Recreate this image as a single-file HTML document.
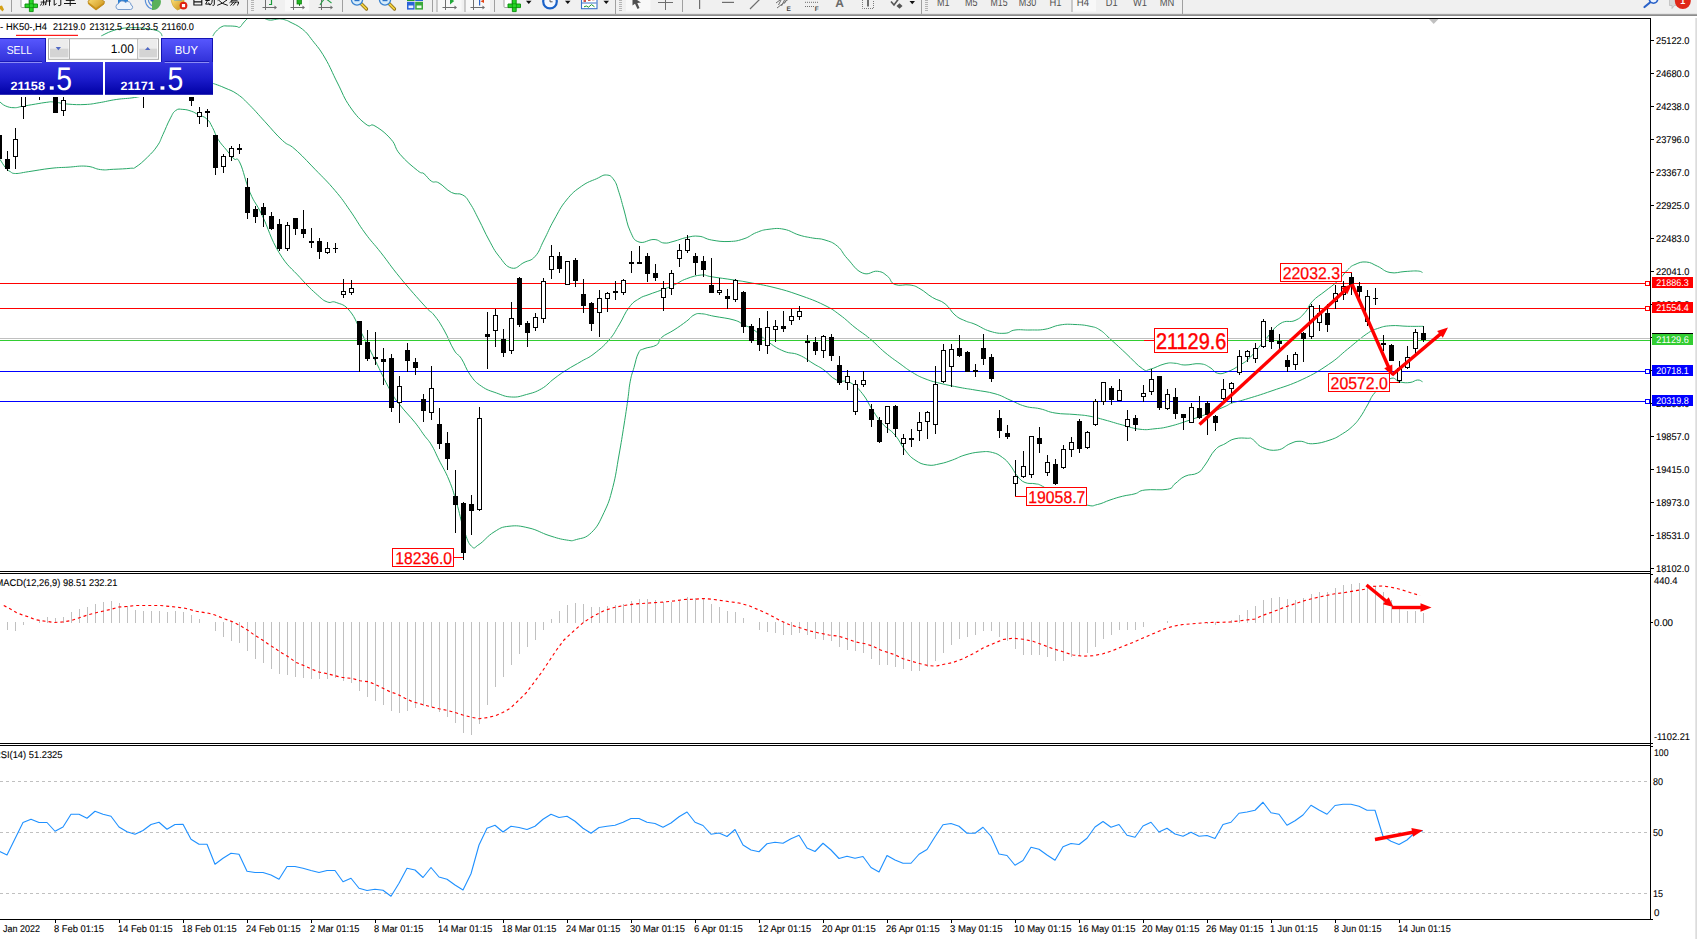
<!DOCTYPE html>
<html><head><meta charset="utf-8"><title>HK50-,H4</title>
<style>
html,body{margin:0;padding:0;background:#fff;}
body{width:1697px;height:939px;overflow:hidden;position:relative;font-family:"Liberation Sans", sans-serif;}
svg text{text-rendering:geometricPrecision;}
</style></head><body>
<svg width="1697" height="939" viewBox="0 0 1697 939" style="position:absolute;left:0;top:0;font-family:&quot;Liberation Sans&quot;,sans-serif">
<rect x="0" y="0" width="1697" height="939" fill="#fff"/>
<defs><clipPath id="cm"><rect x="0" y="19" width="1650" height="552"/></clipPath><clipPath id="cmacd"><rect x="0" y="574" width="1650" height="169"/></clipPath><clipPath id="crsi"><rect x="0" y="746" width="1650" height="173"/></clipPath></defs>
<g clip-path="url(#cm)">
<path d="M101.50,36.20 C101.71,36.01 100.14,36.54 102.40,35.40 C104.66,34.26 106.95,32.86 111.20,31.30 C115.45,29.74 116.47,29.52 120.60,28.70 C124.73,27.88 124.49,28.01 128.90,27.80 C133.31,27.59 134.83,27.52 139.50,27.80 C144.17,28.08 144.77,28.32 148.90,29.00 C153.03,29.68 154.45,29.74 157.20,30.70 C159.95,31.66 159.60,32.00 160.70,33.10 C161.80,34.20 161.55,34.63 161.90,35.40 C162.25,36.17 162.13,36.17 162.20,36.40" fill="none" stroke="#28a868" stroke-width="1"/>
<path d="M212.80,36.30 C212.89,36.09 212.43,36.57 213.20,35.40 C213.97,34.23 214.05,33.35 216.10,31.30 C218.15,29.25 219.25,27.84 222.00,26.60 C224.75,25.36 224.61,26.05 227.90,26.00 C231.19,25.95 233.35,26.12 236.10,26.40 C238.85,26.68 238.04,27.97 239.70,27.20 C241.36,26.43 241.57,24.94 243.20,23.10 C244.83,21.26 245.35,20.61 246.70,19.30 C248.05,17.99 248.46,17.92 249.00,17.50" fill="none" stroke="#28a868" stroke-width="1"/>
<path d="M263.00,17.50 C263.61,17.83 263.90,18.29 265.60,18.90 C267.30,19.51 267.83,20.01 270.30,20.10 C272.77,20.19 273.73,19.58 276.20,19.30 C278.67,19.02 278.71,18.71 280.90,18.90 C283.09,19.09 283.48,19.38 285.60,20.10 C287.72,20.82 286.06,19.87 290.00,22.00 C293.94,24.13 297.25,24.93 302.50,29.25 C307.75,33.57 307.25,33.79 312.50,40.50 C317.75,47.21 319.17,48.08 325.00,58.00 C330.83,67.92 331.67,71.62 337.50,83.00 C343.33,94.38 343.35,97.12 350.00,106.75 C356.65,116.38 360.17,119.76 366.00,124.25 C371.83,128.74 369.17,122.50 375.00,126.00 C380.83,129.50 385.17,132.66 391.00,139.25 C396.83,145.84 393.82,146.96 400.00,154.25 C406.18,161.54 411.90,165.95 417.50,170.50 C423.10,175.05 420.73,171.24 424.00,173.75 C427.27,176.26 428.00,179.09 431.50,181.25 C435.00,183.41 434.33,180.38 439.00,183.00 C443.67,185.62 445.96,189.70 451.50,192.50 C457.04,195.30 458.38,192.38 462.75,195.00 C467.12,197.62 466.46,197.92 470.25,203.75 C474.04,209.58 474.62,211.54 479.00,220.00 C483.38,228.46 484.33,231.54 489.00,240.00 C493.67,248.46 493.75,249.72 499.00,256.25 C504.25,262.78 505.67,266.54 511.50,268.00 C517.33,269.46 518.46,265.24 524.00,262.50 C529.54,259.76 530.58,261.50 535.25,256.25 C539.92,251.00 539.62,248.46 544.00,240.00 C548.38,231.54 548.75,229.33 554.00,220.00 C559.25,210.67 560.08,207.88 566.50,200.00 C572.92,192.12 574.50,191.21 581.50,186.25 C588.50,181.29 590.67,181.38 596.50,178.75 C602.33,176.12 602.42,174.71 606.50,175.00 C610.58,175.29 611.08,175.92 614.00,180.00 C616.92,184.08 616.67,185.50 619.00,192.50 C621.33,199.50 621.38,200.96 624.00,210.00 C626.62,219.04 626.75,223.78 630.25,231.25 C633.75,238.72 633.46,240.07 639.00,242.00 C644.54,243.93 648.17,239.27 654.00,239.50 C659.83,239.73 659.33,242.59 664.00,243.00 C668.67,243.41 668.75,242.53 674.00,241.25 C679.25,239.97 680.67,238.67 686.50,237.50 C692.33,236.33 693.17,235.67 699.00,236.25 C704.83,236.83 704.50,238.78 711.50,240.00 C718.50,241.22 721.42,241.79 729.00,241.50 C736.58,241.21 737.58,240.85 744.00,238.75 C750.42,236.65 750.67,234.72 756.50,232.50 C762.33,230.28 762.58,230.01 769.00,229.25 C775.42,228.49 777.00,227.91 784.00,229.25 C791.00,230.59 792.35,232.96 799.00,235.00 C805.65,237.04 806.43,236.83 812.50,238.00 C818.57,239.17 819.17,238.07 825.00,240.00 C830.83,241.93 832.25,241.88 837.50,246.25 C842.75,250.62 841.67,252.51 847.50,258.75 C853.33,264.99 855.50,270.08 862.50,273.00 C869.50,275.92 871.67,270.49 877.50,271.25 C883.33,272.01 883.42,273.16 887.50,276.25 C891.58,279.34 889.75,282.46 895.00,284.50 C900.25,286.54 904.17,284.01 910.00,285.00 C915.83,285.99 914.75,285.83 920.00,288.75 C925.25,291.67 926.67,294.00 932.50,297.50 C938.33,301.00 939.75,299.67 945.00,303.75 C950.25,307.83 950.33,311.03 955.00,315.00 C959.67,318.97 960.33,318.59 965.00,320.75 C969.67,322.91 969.17,321.80 975.00,324.25 C980.83,326.70 983.00,329.15 990.00,331.25 C997.00,333.35 999.17,333.54 1005.00,333.25 C1010.83,332.96 1009.17,330.76 1015.00,330.00 C1020.83,329.24 1023.00,330.18 1030.00,330.00 C1037.00,329.82 1038.00,330.42 1045.00,329.25 C1052.00,328.08 1053.00,326.11 1060.00,325.00 C1067.00,323.89 1068.00,324.21 1075.00,324.50 C1082.00,324.79 1084.17,324.97 1090.00,326.25 C1095.83,327.53 1095.33,327.08 1100.00,330.00 C1104.67,332.92 1104.17,333.50 1110.00,338.75 C1115.83,344.00 1117.42,345.50 1125.00,352.50 C1132.58,359.50 1136.67,364.84 1142.50,368.75 C1148.33,372.66 1144.75,370.42 1150.00,369.25 C1155.25,368.08 1159.17,365.15 1165.00,363.75 C1170.83,362.35 1170.33,362.96 1175.00,363.25 C1179.67,363.54 1179.17,364.88 1185.00,365.00 C1190.83,365.12 1194.17,363.17 1200.00,363.75 C1205.83,364.33 1205.92,365.28 1210.00,367.50 C1214.08,369.72 1213.42,372.26 1217.50,373.25 C1221.58,374.24 1222.25,373.68 1227.50,371.75 C1232.75,369.82 1234.75,368.32 1240.00,365.00 C1245.25,361.68 1244.17,363.33 1250.00,357.50 C1255.83,351.67 1258.00,347.88 1265.00,340.00 C1272.00,332.12 1273.00,328.30 1280.00,323.75 C1287.00,319.20 1289.17,323.12 1295.00,320.50 C1300.83,317.88 1300.92,316.99 1305.00,312.50 C1309.08,308.01 1307.83,306.21 1312.50,301.25 C1317.17,296.29 1319.17,295.92 1325.00,291.25 C1330.83,286.58 1332.25,286.21 1337.50,281.25 C1342.75,276.29 1343.42,273.91 1347.50,270.00 C1351.58,266.09 1350.62,266.37 1355.00,264.50 C1359.38,262.63 1361.00,261.59 1366.25,262.00 C1371.50,262.41 1371.96,263.80 1377.50,266.25 C1383.04,268.70 1383.58,271.27 1390.00,272.50 C1396.42,273.73 1398.58,271.85 1405.00,271.50 C1411.42,271.15 1413.42,270.77 1417.50,271.00 C1421.58,271.23 1421.33,272.15 1422.50,272.50" fill="none" stroke="#28a868" stroke-width="1"/>
<path d="M0.00,102.00 C1.33,102.93 2.39,104.67 5.70,106.00 C9.01,107.33 10.23,107.64 14.20,107.70 C18.17,107.76 17.75,107.09 22.70,106.25 C27.65,105.41 29.79,105.02 35.40,104.10 C41.01,103.18 42.46,102.79 46.75,102.30 C51.04,101.81 48.84,101.58 53.80,102.00 C58.76,102.42 60.72,103.52 68.00,104.10 C75.28,104.68 77.72,104.83 85.00,104.50 C92.28,104.17 91.92,103.87 99.20,102.70 C106.48,101.53 107.94,100.71 116.20,99.50 C124.46,98.29 126.71,98.78 134.60,97.50 C142.49,96.22 146.41,94.82 150.00,94.00" fill="none" stroke="#28a868" stroke-width="1"/>
<path d="M213.00,83.50 C213.58,83.67 212.70,83.20 215.50,84.25 C218.30,85.30 219.87,85.67 225.00,88.00 C230.13,90.33 231.67,90.17 237.50,94.25 C243.33,98.33 243.58,99.08 250.00,105.50 C256.42,111.92 257.42,113.58 265.00,121.75 C272.58,129.92 275.50,134.08 282.50,140.50 C289.50,146.92 287.42,142.54 295.00,149.25 C302.58,155.96 305.67,159.62 315.00,169.25 C324.33,178.88 326.83,180.88 335.00,190.50 C343.17,200.12 343.00,200.58 350.00,210.50 C357.00,220.42 357.77,223.14 365.00,233.00 C372.23,242.86 372.83,242.37 381.00,252.75 C389.17,263.13 389.73,265.02 400.00,277.50 C410.27,289.98 417.07,297.50 425.00,306.25 C432.93,315.00 429.57,309.46 434.00,315.00 C438.43,320.54 439.33,321.83 444.00,330.00 C448.67,338.17 449.92,343.29 454.00,350.00 C458.08,356.71 457.71,352.92 461.50,358.75 C465.29,364.58 465.58,368.58 470.25,375.00 C474.92,381.42 475.38,382.05 481.50,386.25 C487.62,390.45 489.50,390.49 496.50,393.00 C503.50,395.51 504.50,396.65 511.50,397.00 C518.50,397.35 519.50,396.43 526.50,394.50 C533.50,392.57 535.08,392.43 541.50,388.75 C547.92,385.07 548.17,383.12 554.00,378.75 C559.83,374.38 560.08,374.08 566.50,370.00 C572.92,365.92 575.08,365.04 581.50,361.25 C587.92,357.46 587.58,358.71 594.00,353.75 C600.42,348.79 603.17,346.71 609.00,340.00 C614.83,333.29 614.33,332.58 619.00,325.00 C623.67,317.42 624.33,313.62 629.00,307.50 C633.67,301.38 634.33,301.78 639.00,298.75 C643.67,295.72 643.75,296.54 649.00,294.50 C654.25,292.46 655.67,292.22 661.50,290.00 C667.33,287.78 668.17,287.62 674.00,285.00 C679.83,282.38 680.08,281.08 686.50,278.75 C692.92,276.42 695.67,275.47 701.50,275.00 C707.33,274.53 703.92,275.58 711.50,276.75 C719.08,277.92 725.25,278.66 734.00,280.00 C742.75,281.34 739.67,280.75 749.00,282.50 C758.33,284.25 762.33,284.58 774.00,287.50 C785.67,290.42 787.33,290.92 799.00,295.00 C810.67,299.08 814.43,300.33 824.00,305.00 C833.57,309.67 832.77,309.75 840.00,315.00 C847.23,320.25 848.00,321.96 855.00,327.50 C862.00,333.04 863.00,332.92 870.00,338.75 C877.00,344.58 878.00,346.67 885.00,352.50 C892.00,358.33 893.58,359.08 900.00,363.75 C906.42,368.42 906.67,369.00 912.50,372.50 C918.33,376.00 918.58,376.24 925.00,378.75 C931.42,381.26 931.83,381.21 940.00,383.25 C948.17,385.29 951.83,385.93 960.00,387.50 C968.17,389.07 966.83,388.54 975.00,390.00 C983.17,391.46 986.83,391.42 995.00,393.75 C1003.17,396.08 1003.00,397.08 1010.00,400.00 C1017.00,402.92 1018.00,404.21 1025.00,406.25 C1032.00,408.29 1033.00,407.18 1040.00,408.75 C1047.00,410.32 1046.83,411.66 1055.00,413.00 C1063.17,414.34 1066.83,413.74 1075.00,414.50 C1083.17,415.26 1083.00,414.97 1090.00,416.25 C1097.00,417.53 1097.42,417.96 1105.00,420.00 C1112.58,422.04 1114.33,422.84 1122.50,425.00 C1130.67,427.16 1132.42,428.38 1140.00,429.25 C1147.58,430.12 1148.00,429.45 1155.00,428.75 C1162.00,428.05 1161.83,428.29 1170.00,426.25 C1178.17,424.21 1181.25,422.92 1190.00,420.00 C1198.75,417.08 1199.33,416.90 1207.50,413.75 C1215.67,410.60 1219.28,409.01 1225.00,406.50 C1230.72,403.99 1227.19,404.68 1232.00,403.00 C1236.81,401.32 1236.27,402.15 1245.60,399.30 C1254.93,396.45 1258.79,395.42 1272.00,390.80 C1285.21,386.18 1288.99,385.66 1302.20,379.50 C1315.41,373.34 1318.05,371.45 1328.60,364.40 C1339.15,357.35 1338.60,356.35 1347.40,349.30 C1356.20,342.25 1359.25,339.05 1366.30,334.20 C1373.35,329.35 1371.88,330.48 1377.60,328.50 C1383.32,326.52 1383.75,326.21 1390.80,325.70 C1397.85,325.19 1400.29,326.16 1407.80,326.30 C1415.31,326.44 1419.45,326.30 1423.00,326.30" fill="none" stroke="#28a868" stroke-width="1"/>
<path d="M0.00,159.40 C1.33,161.38 3.39,165.10 5.70,167.90 C8.01,170.70 7.59,170.09 9.90,171.40 C12.21,172.71 11.31,173.43 15.60,173.50 C19.89,173.57 20.04,172.91 28.30,171.70 C36.56,170.49 41.74,169.35 51.00,168.30 C60.26,167.25 59.74,167.69 68.00,167.20 C76.26,166.71 78.79,165.64 86.40,166.20 C94.01,166.76 94.32,168.88 100.60,169.60 C106.88,170.32 106.37,169.60 113.30,169.30 C120.23,169.00 125.00,168.86 130.30,168.30 C135.60,167.74 132.01,169.48 136.00,166.90 C139.99,164.32 142.43,162.15 147.40,157.25 C152.37,152.35 153.68,151.19 157.30,145.90 C160.92,140.62 159.94,140.88 162.90,134.60 C165.86,128.32 167.01,124.62 170.00,119.00 C172.99,113.38 172.71,112.74 175.70,110.50 C178.69,108.26 179.16,109.24 182.80,109.40 C186.44,109.56 187.66,109.95 191.30,111.20 C194.94,112.45 194.76,112.93 198.40,114.75 C202.04,116.57 203.61,116.03 206.90,119.00 C210.19,121.97 209.86,122.72 212.50,127.50 C215.14,132.28 214.89,134.20 218.20,139.50 C221.51,144.80 223.06,145.72 226.70,150.20 C230.34,154.68 230.70,155.71 233.80,158.70 C236.90,161.69 236.22,155.11 240.00,163.00 C243.78,170.89 244.87,180.37 250.00,192.50 C255.13,204.63 255.23,201.00 262.00,215.00 C268.77,229.00 270.13,237.92 279.00,252.50 C287.87,267.08 291.02,267.58 300.00,277.50 C308.98,287.42 311.08,289.28 317.50,295.00 C323.92,300.72 323.12,300.25 327.50,302.00 C331.88,303.75 331.00,300.34 336.25,302.50 C341.50,304.66 343.88,303.67 350.00,311.25 C356.12,318.83 356.67,323.62 362.50,335.00 C368.33,346.38 368.58,347.17 375.00,360.00 C381.42,372.83 384.17,379.50 390.00,390.00 C395.83,400.50 394.17,397.42 400.00,405.00 C405.83,412.58 409.40,415.50 415.00,422.50 C420.60,429.50 420.15,429.75 424.00,435.00 C427.85,440.25 428.00,439.17 431.50,445.00 C435.00,450.83 434.92,451.83 439.00,460.00 C443.08,468.17 444.92,470.08 449.00,480.00 C453.08,489.92 453.00,490.83 456.50,502.50 C460.00,514.17 460.50,519.79 464.00,530.00 C467.50,540.21 468.00,542.87 471.50,546.25 C475.00,549.63 473.75,547.83 479.00,544.50 C484.25,541.17 487.00,536.26 494.00,532.00 C501.00,527.74 500.83,527.18 509.00,526.25 C517.17,525.32 519.67,525.84 529.00,528.00 C538.33,530.16 540.25,532.70 549.00,535.50 C557.75,538.30 560.08,539.07 566.50,540.00 C572.92,540.93 570.67,541.25 576.50,539.50 C582.33,537.75 585.08,538.80 591.50,532.50 C597.92,526.20 599.04,523.00 604.00,512.50 C608.96,502.00 609.25,500.92 612.75,487.50 C616.25,474.08 616.38,469.58 619.00,455.00 C621.62,440.42 621.96,437.83 624.00,425.00 C626.04,412.17 626.29,410.21 627.75,400.00 C629.21,389.79 628.79,388.83 630.25,381.25 C631.71,373.67 632.08,374.09 634.00,367.50 C635.92,360.91 636.17,357.38 638.50,353.00 C640.83,348.62 639.80,350.62 644.00,348.75 C648.20,346.88 652.42,347.62 656.50,345.00 C660.58,342.38 657.42,341.00 661.50,337.50 C665.58,334.00 668.17,333.79 674.00,330.00 C679.83,326.21 681.83,324.75 686.50,321.25 C691.17,317.75 690.50,316.75 694.00,315.00 C697.50,313.25 696.83,313.46 701.50,313.75 C706.17,314.04 706.42,314.79 714.00,316.25 C721.58,317.71 727.00,317.96 734.00,320.00 C741.00,322.04 739.33,322.67 744.00,325.00 C748.67,327.33 748.17,325.92 754.00,330.00 C759.83,334.08 762.00,337.54 769.00,342.50 C776.00,347.46 777.00,348.33 784.00,351.25 C791.00,354.17 792.00,352.02 799.00,355.00 C806.00,357.98 808.17,360.50 814.00,364.00 C819.83,367.50 818.75,366.27 824.00,370.00 C829.25,373.73 830.43,377.08 836.50,380.00 C842.57,382.92 843.93,379.29 850.00,382.50 C856.07,385.71 857.25,387.33 862.50,393.75 C867.75,400.17 867.83,403.00 872.50,410.00 C877.17,417.00 877.25,417.92 882.50,423.75 C887.75,429.58 889.75,428.88 895.00,435.00 C900.25,441.12 900.33,444.17 905.00,450.00 C909.67,455.83 909.75,456.50 915.00,460.00 C920.25,463.50 921.67,464.12 927.50,465.00 C933.33,465.88 934.17,464.92 940.00,463.75 C945.83,462.58 946.67,462.04 952.50,460.00 C958.33,457.96 958.58,456.87 965.00,455.00 C971.42,453.13 973.58,452.58 980.00,452.00 C986.42,451.42 987.25,451.22 992.50,452.50 C997.75,453.78 998.42,454.58 1002.50,457.50 C1006.58,460.42 1006.50,460.62 1010.00,465.00 C1013.50,469.38 1014.00,472.17 1017.50,476.25 C1021.00,480.33 1020.92,480.75 1025.00,482.50 C1029.08,484.25 1030.92,482.88 1035.00,483.75 C1039.08,484.62 1036.67,483.16 1042.50,486.25 C1048.33,489.34 1049.79,492.62 1060.00,497.00 C1070.21,501.38 1077.50,503.25 1086.25,505.00 C1095.00,506.75 1091.96,505.67 1097.50,504.50 C1103.04,503.33 1104.17,501.93 1110.00,500.00 C1115.83,498.07 1116.67,497.71 1122.50,496.25 C1128.33,494.79 1129.75,495.21 1135.00,493.75 C1140.25,492.29 1137.42,491.05 1145.00,490.00 C1152.58,488.95 1160.50,490.71 1167.50,489.25 C1174.50,487.79 1170.92,486.78 1175.00,483.75 C1179.08,480.72 1179.75,478.76 1185.00,476.25 C1190.25,473.74 1192.83,475.62 1197.50,473.00 C1202.17,470.38 1200.92,470.37 1205.00,465.00 C1209.08,459.63 1210.33,454.96 1215.00,450.00 C1219.67,445.04 1220.33,446.38 1225.00,443.75 C1229.67,441.12 1229.75,440.03 1235.00,438.75 C1240.25,437.47 1243.42,438.13 1247.50,438.25 C1251.58,438.37 1249.00,437.09 1252.50,439.25 C1256.00,441.41 1256.67,444.99 1262.50,447.50 C1268.33,450.01 1271.08,450.88 1277.50,450.00 C1283.92,449.12 1284.75,445.79 1290.00,443.75 C1295.25,441.71 1294.75,441.25 1300.00,441.25 C1305.25,441.25 1305.50,444.04 1312.50,443.75 C1319.50,443.46 1323.00,442.33 1330.00,440.00 C1337.00,437.67 1337.25,436.96 1342.50,433.75 C1347.75,430.54 1348.42,430.04 1352.50,426.25 C1356.58,422.46 1356.50,422.46 1360.00,417.50 C1363.50,412.54 1364.00,410.83 1367.50,405.00 C1371.00,399.17 1369.75,398.62 1375.00,392.50 C1380.25,386.38 1384.17,381.20 1390.00,378.75 C1395.83,376.30 1395.33,381.12 1400.00,382.00 C1404.67,382.88 1405.92,382.97 1410.00,382.50 C1414.08,382.03 1414.58,380.18 1417.50,380.00 C1420.42,379.82 1421.33,381.34 1422.50,381.75" fill="none" stroke="#28a868" stroke-width="1"/>
<rect x="0" y="283" width="1650" height="1" fill="#ff0000" shape-rendering="crispEdges"/>
<rect x="0" y="308" width="1650" height="1" fill="#ff0000" shape-rendering="crispEdges"/>
<rect x="0" y="338" width="1650" height="1" fill="#c0c0c0" shape-rendering="crispEdges"/>
<rect x="0" y="340" width="1650" height="1" fill="#32cd32" shape-rendering="crispEdges"/>
<rect x="0" y="371" width="1650" height="1" fill="#0000ff" shape-rendering="crispEdges"/>
<rect x="0" y="401" width="1650" height="1" fill="#0000ff" shape-rendering="crispEdges"/>
<g shape-rendering="crispEdges">
<rect x="-1" y="135" width="1" height="24" fill="#000"/>
<rect x="-3" y="135" width="5" height="24" fill="#000"/>
<rect x="7" y="151" width="1" height="20" fill="#000"/>
<rect x="5" y="159" width="5" height="10" fill="#000"/>
<rect x="15" y="128" width="1" height="41" fill="#000"/>
<rect x="13" y="139" width="5" height="18" fill="#000"/>
<rect x="14" y="140" width="3" height="16" fill="#fff"/>
<rect x="23" y="90" width="1" height="29" fill="#000"/>
<rect x="21" y="90" width="5" height="17" fill="#000"/>
<rect x="22" y="91" width="3" height="15" fill="#fff"/>
<rect x="39" y="90" width="1" height="10" fill="#000"/>
<rect x="55" y="90" width="1" height="23" fill="#000"/>
<rect x="53" y="90" width="5" height="23" fill="#000"/>
<rect x="63" y="90" width="1" height="26" fill="#000"/>
<rect x="61" y="100" width="5" height="11" fill="#000"/>
<rect x="62" y="101" width="3" height="9" fill="#fff"/>
<rect x="143" y="90" width="1" height="18" fill="#000"/>
<rect x="191" y="90" width="1" height="16" fill="#000"/>
<rect x="189" y="90" width="5" height="11" fill="#000"/>
<rect x="199" y="107" width="1" height="17" fill="#000"/>
<rect x="197" y="112" width="5" height="5" fill="#000"/>
<rect x="198" y="113" width="3" height="3" fill="#fff"/>
<rect x="207" y="109" width="1" height="18" fill="#000"/>
<rect x="205" y="111" width="5" height="2" fill="#000"/>
<rect x="215" y="135" width="1" height="40" fill="#000"/>
<rect x="213" y="135" width="5" height="33" fill="#000"/>
<rect x="223" y="154" width="1" height="19" fill="#000"/>
<rect x="221" y="156" width="5" height="11" fill="#000"/>
<rect x="222" y="157" width="3" height="9" fill="#fff"/>
<rect x="231" y="146" width="1" height="15" fill="#000"/>
<rect x="229" y="148" width="5" height="9" fill="#000"/>
<rect x="230" y="149" width="3" height="7" fill="#fff"/>
<rect x="239" y="144" width="1" height="10" fill="#000"/>
<rect x="237" y="148" width="5" height="2" fill="#000"/>
<rect x="247" y="178" width="1" height="41" fill="#000"/>
<rect x="245" y="187" width="5" height="26" fill="#000"/>
<rect x="255" y="206" width="1" height="17" fill="#000"/>
<rect x="253" y="209" width="5" height="8" fill="#000"/>
<rect x="263" y="203" width="1" height="24" fill="#000"/>
<rect x="261" y="207" width="5" height="8" fill="#000"/>
<rect x="271" y="212" width="1" height="18" fill="#000"/>
<rect x="269" y="216" width="5" height="13" fill="#000"/>
<rect x="279" y="219" width="1" height="32" fill="#000"/>
<rect x="277" y="224" width="5" height="25" fill="#000"/>
<rect x="287" y="222" width="1" height="29" fill="#000"/>
<rect x="285" y="225" width="5" height="24" fill="#000"/>
<rect x="286" y="226" width="3" height="22" fill="#fff"/>
<rect x="295" y="218" width="1" height="17" fill="#000"/>
<rect x="293" y="218" width="5" height="11" fill="#000"/>
<rect x="303" y="210" width="1" height="28" fill="#000"/>
<rect x="301" y="229" width="5" height="5" fill="#000"/>
<rect x="311" y="228" width="1" height="20" fill="#000"/>
<rect x="309" y="241" width="5" height="2" fill="#000"/>
<rect x="319" y="238" width="1" height="21" fill="#000"/>
<rect x="317" y="241" width="5" height="11" fill="#000"/>
<rect x="327" y="242" width="1" height="12" fill="#000"/>
<rect x="325" y="248" width="5" height="5" fill="#000"/>
<rect x="326" y="249" width="3" height="3" fill="#fff"/>
<rect x="335" y="243" width="1" height="10" fill="#000"/>
<rect x="333" y="248" width="5" height="1" fill="#000"/>
<rect x="343" y="279" width="1" height="19" fill="#000"/>
<rect x="341" y="291" width="5" height="4" fill="#000"/>
<rect x="342" y="292" width="3" height="2" fill="#fff"/>
<rect x="351" y="280" width="1" height="15" fill="#000"/>
<rect x="349" y="288" width="5" height="5" fill="#000"/>
<rect x="350" y="289" width="3" height="3" fill="#fff"/>
<rect x="359" y="321" width="1" height="51" fill="#000"/>
<rect x="357" y="321" width="5" height="24" fill="#000"/>
<rect x="367" y="330" width="1" height="31" fill="#000"/>
<rect x="365" y="342" width="5" height="17" fill="#000"/>
<rect x="375" y="332" width="1" height="33" fill="#000"/>
<rect x="373" y="357" width="5" height="2" fill="#000"/>
<rect x="383" y="348" width="1" height="37" fill="#000"/>
<rect x="381" y="359" width="5" height="3" fill="#000"/>
<rect x="391" y="354" width="1" height="58" fill="#000"/>
<rect x="389" y="358" width="5" height="50" fill="#000"/>
<rect x="399" y="376" width="1" height="47" fill="#000"/>
<rect x="397" y="386" width="5" height="17" fill="#000"/>
<rect x="398" y="387" width="3" height="15" fill="#fff"/>
<rect x="407" y="343" width="1" height="29" fill="#000"/>
<rect x="405" y="350" width="5" height="11" fill="#000"/>
<rect x="415" y="358" width="1" height="17" fill="#000"/>
<rect x="413" y="362" width="5" height="6" fill="#000"/>
<rect x="423" y="394" width="1" height="28" fill="#000"/>
<rect x="421" y="399" width="5" height="12" fill="#000"/>
<rect x="431" y="366" width="1" height="54" fill="#000"/>
<rect x="429" y="388" width="5" height="25" fill="#000"/>
<rect x="430" y="389" width="3" height="23" fill="#fff"/>
<rect x="439" y="408" width="1" height="41" fill="#000"/>
<rect x="437" y="424" width="5" height="20" fill="#000"/>
<rect x="447" y="432" width="1" height="38" fill="#000"/>
<rect x="445" y="443" width="5" height="16" fill="#000"/>
<rect x="455" y="470" width="1" height="63" fill="#000"/>
<rect x="453" y="496" width="5" height="9" fill="#000"/>
<rect x="463" y="502" width="1" height="58" fill="#000"/>
<rect x="461" y="503" width="5" height="50" fill="#000"/>
<rect x="471" y="495" width="1" height="40" fill="#000"/>
<rect x="469" y="504" width="5" height="7" fill="#000"/>
<rect x="479" y="407" width="1" height="104" fill="#000"/>
<rect x="477" y="418" width="5" height="92" fill="#000"/>
<rect x="478" y="419" width="3" height="90" fill="#fff"/>
<rect x="487" y="312" width="1" height="57" fill="#000"/>
<rect x="485" y="334" width="5" height="3" fill="#000"/>
<rect x="495" y="309" width="1" height="38" fill="#000"/>
<rect x="493" y="315" width="5" height="16" fill="#000"/>
<rect x="494" y="316" width="3" height="14" fill="#fff"/>
<rect x="503" y="329" width="1" height="28" fill="#000"/>
<rect x="501" y="339" width="5" height="14" fill="#000"/>
<rect x="511" y="302" width="1" height="52" fill="#000"/>
<rect x="509" y="318" width="5" height="33" fill="#000"/>
<rect x="510" y="319" width="3" height="31" fill="#fff"/>
<rect x="519" y="277" width="1" height="50" fill="#000"/>
<rect x="517" y="278" width="5" height="47" fill="#000"/>
<rect x="527" y="321" width="1" height="26" fill="#000"/>
<rect x="525" y="323" width="5" height="10" fill="#000"/>
<rect x="535" y="313" width="1" height="18" fill="#000"/>
<rect x="533" y="317" width="5" height="11" fill="#000"/>
<rect x="534" y="318" width="3" height="9" fill="#fff"/>
<rect x="543" y="278" width="1" height="45" fill="#000"/>
<rect x="541" y="281" width="5" height="38" fill="#000"/>
<rect x="542" y="282" width="3" height="36" fill="#fff"/>
<rect x="551" y="245" width="1" height="34" fill="#000"/>
<rect x="549" y="256" width="5" height="14" fill="#000"/>
<rect x="550" y="257" width="3" height="12" fill="#fff"/>
<rect x="559" y="252" width="1" height="21" fill="#000"/>
<rect x="557" y="256" width="5" height="13" fill="#000"/>
<rect x="567" y="261" width="1" height="24" fill="#000"/>
<rect x="565" y="261" width="5" height="24" fill="#000"/>
<rect x="566" y="262" width="3" height="22" fill="#fff"/>
<rect x="575" y="258" width="1" height="29" fill="#000"/>
<rect x="573" y="260" width="5" height="21" fill="#000"/>
<rect x="583" y="279" width="1" height="34" fill="#000"/>
<rect x="581" y="294" width="5" height="12" fill="#000"/>
<rect x="591" y="302" width="1" height="29" fill="#000"/>
<rect x="589" y="303" width="5" height="21" fill="#000"/>
<rect x="599" y="290" width="1" height="47" fill="#000"/>
<rect x="597" y="298" width="5" height="15" fill="#000"/>
<rect x="598" y="299" width="3" height="13" fill="#fff"/>
<rect x="607" y="292" width="1" height="20" fill="#000"/>
<rect x="605" y="293" width="5" height="6" fill="#000"/>
<rect x="606" y="294" width="3" height="4" fill="#fff"/>
<rect x="615" y="281" width="1" height="19" fill="#000"/>
<rect x="613" y="291" width="5" height="2" fill="#000"/>
<rect x="623" y="279" width="1" height="16" fill="#000"/>
<rect x="621" y="280" width="5" height="13" fill="#000"/>
<rect x="622" y="281" width="3" height="11" fill="#fff"/>
<rect x="631" y="251" width="1" height="22" fill="#000"/>
<rect x="629" y="262" width="5" height="2" fill="#000"/>
<rect x="639" y="246" width="1" height="18" fill="#000"/>
<rect x="637" y="262" width="5" height="2" fill="#000"/>
<rect x="647" y="253" width="1" height="29" fill="#000"/>
<rect x="645" y="256" width="5" height="18" fill="#000"/>
<rect x="655" y="264" width="1" height="17" fill="#000"/>
<rect x="653" y="273" width="5" height="5" fill="#000"/>
<rect x="663" y="281" width="1" height="30" fill="#000"/>
<rect x="661" y="288" width="5" height="10" fill="#000"/>
<rect x="662" y="289" width="3" height="8" fill="#fff"/>
<rect x="671" y="270" width="1" height="25" fill="#000"/>
<rect x="669" y="273" width="5" height="16" fill="#000"/>
<rect x="670" y="274" width="3" height="14" fill="#fff"/>
<rect x="679" y="244" width="1" height="23" fill="#000"/>
<rect x="677" y="250" width="5" height="9" fill="#000"/>
<rect x="678" y="251" width="3" height="7" fill="#fff"/>
<rect x="687" y="235" width="1" height="18" fill="#000"/>
<rect x="685" y="239" width="5" height="12" fill="#000"/>
<rect x="686" y="240" width="3" height="10" fill="#fff"/>
<rect x="695" y="253" width="1" height="22" fill="#000"/>
<rect x="693" y="256" width="5" height="7" fill="#000"/>
<rect x="703" y="256" width="1" height="21" fill="#000"/>
<rect x="701" y="261" width="5" height="9" fill="#000"/>
<rect x="711" y="258" width="1" height="35" fill="#000"/>
<rect x="709" y="285" width="5" height="8" fill="#000"/>
<rect x="719" y="278" width="1" height="17" fill="#000"/>
<rect x="717" y="290" width="5" height="3" fill="#000"/>
<rect x="718" y="291" width="3" height="1" fill="#fff"/>
<rect x="727" y="289" width="1" height="20" fill="#000"/>
<rect x="725" y="296" width="5" height="3" fill="#000"/>
<rect x="735" y="279" width="1" height="23" fill="#000"/>
<rect x="733" y="280" width="5" height="20" fill="#000"/>
<rect x="734" y="281" width="3" height="18" fill="#fff"/>
<rect x="743" y="291" width="1" height="42" fill="#000"/>
<rect x="741" y="292" width="5" height="35" fill="#000"/>
<rect x="751" y="324" width="1" height="19" fill="#000"/>
<rect x="749" y="326" width="5" height="15" fill="#000"/>
<rect x="759" y="318" width="1" height="33" fill="#000"/>
<rect x="757" y="328" width="5" height="17" fill="#000"/>
<rect x="767" y="311" width="1" height="43" fill="#000"/>
<rect x="765" y="327" width="5" height="19" fill="#000"/>
<rect x="766" y="328" width="3" height="17" fill="#fff"/>
<rect x="775" y="320" width="1" height="22" fill="#000"/>
<rect x="773" y="326" width="5" height="4" fill="#000"/>
<rect x="774" y="327" width="3" height="2" fill="#fff"/>
<rect x="783" y="311" width="1" height="21" fill="#000"/>
<rect x="781" y="326" width="5" height="3" fill="#000"/>
<rect x="791" y="309" width="1" height="16" fill="#000"/>
<rect x="789" y="316" width="5" height="5" fill="#000"/>
<rect x="790" y="317" width="3" height="3" fill="#fff"/>
<rect x="799" y="306" width="1" height="14" fill="#000"/>
<rect x="797" y="311" width="5" height="6" fill="#000"/>
<rect x="798" y="312" width="3" height="4" fill="#fff"/>
<rect x="807" y="335" width="1" height="27" fill="#000"/>
<rect x="805" y="341" width="5" height="2" fill="#000"/>
<rect x="815" y="337" width="1" height="18" fill="#000"/>
<rect x="813" y="342" width="5" height="9" fill="#000"/>
<rect x="823" y="335" width="1" height="23" fill="#000"/>
<rect x="821" y="336" width="5" height="15" fill="#000"/>
<rect x="822" y="337" width="3" height="13" fill="#fff"/>
<rect x="831" y="334" width="1" height="27" fill="#000"/>
<rect x="829" y="337" width="5" height="19" fill="#000"/>
<rect x="839" y="356" width="1" height="29" fill="#000"/>
<rect x="837" y="365" width="5" height="18" fill="#000"/>
<rect x="847" y="370" width="1" height="20" fill="#000"/>
<rect x="845" y="376" width="5" height="7" fill="#000"/>
<rect x="846" y="377" width="3" height="5" fill="#fff"/>
<rect x="855" y="380" width="1" height="35" fill="#000"/>
<rect x="853" y="384" width="5" height="28" fill="#000"/>
<rect x="854" y="385" width="3" height="26" fill="#fff"/>
<rect x="863" y="371" width="1" height="16" fill="#000"/>
<rect x="861" y="380" width="5" height="5" fill="#000"/>
<rect x="862" y="381" width="3" height="3" fill="#fff"/>
<rect x="871" y="404" width="1" height="23" fill="#000"/>
<rect x="869" y="409" width="5" height="11" fill="#000"/>
<rect x="879" y="417" width="1" height="26" fill="#000"/>
<rect x="877" y="420" width="5" height="22" fill="#000"/>
<rect x="887" y="406" width="1" height="27" fill="#000"/>
<rect x="885" y="406" width="5" height="18" fill="#000"/>
<rect x="886" y="407" width="3" height="16" fill="#fff"/>
<rect x="895" y="405" width="1" height="32" fill="#000"/>
<rect x="893" y="406" width="5" height="23" fill="#000"/>
<rect x="903" y="434" width="1" height="21" fill="#000"/>
<rect x="901" y="438" width="5" height="6" fill="#000"/>
<rect x="902" y="439" width="3" height="4" fill="#fff"/>
<rect x="911" y="429" width="1" height="18" fill="#000"/>
<rect x="909" y="438" width="5" height="2" fill="#000"/>
<rect x="919" y="412" width="1" height="29" fill="#000"/>
<rect x="917" y="422" width="5" height="9" fill="#000"/>
<rect x="918" y="423" width="3" height="7" fill="#fff"/>
<rect x="927" y="411" width="1" height="28" fill="#000"/>
<rect x="925" y="412" width="5" height="10" fill="#000"/>
<rect x="926" y="413" width="3" height="8" fill="#fff"/>
<rect x="935" y="366" width="1" height="68" fill="#000"/>
<rect x="933" y="384" width="5" height="41" fill="#000"/>
<rect x="934" y="385" width="3" height="39" fill="#fff"/>
<rect x="943" y="344" width="1" height="39" fill="#000"/>
<rect x="941" y="350" width="5" height="32" fill="#000"/>
<rect x="942" y="351" width="3" height="30" fill="#fff"/>
<rect x="951" y="344" width="1" height="43" fill="#000"/>
<rect x="949" y="349" width="5" height="18" fill="#000"/>
<rect x="950" y="350" width="3" height="16" fill="#fff"/>
<rect x="959" y="335" width="1" height="22" fill="#000"/>
<rect x="957" y="348" width="5" height="8" fill="#000"/>
<rect x="967" y="351" width="1" height="21" fill="#000"/>
<rect x="965" y="352" width="5" height="20" fill="#000"/>
<rect x="975" y="364" width="1" height="13" fill="#000"/>
<rect x="973" y="370" width="5" height="2" fill="#000"/>
<rect x="983" y="334" width="1" height="31" fill="#000"/>
<rect x="981" y="348" width="5" height="11" fill="#000"/>
<rect x="991" y="354" width="1" height="28" fill="#000"/>
<rect x="989" y="357" width="5" height="22" fill="#000"/>
<rect x="999" y="410" width="1" height="28" fill="#000"/>
<rect x="997" y="418" width="5" height="13" fill="#000"/>
<rect x="1007" y="425" width="1" height="14" fill="#000"/>
<rect x="1005" y="433" width="5" height="4" fill="#000"/>
<rect x="1015" y="460" width="1" height="37" fill="#000"/>
<rect x="1013" y="476" width="5" height="8" fill="#000"/>
<rect x="1014" y="477" width="3" height="6" fill="#fff"/>
<rect x="1023" y="451" width="1" height="27" fill="#000"/>
<rect x="1021" y="466" width="5" height="11" fill="#000"/>
<rect x="1022" y="467" width="3" height="9" fill="#fff"/>
<rect x="1031" y="436" width="1" height="42" fill="#000"/>
<rect x="1029" y="436" width="5" height="39" fill="#000"/>
<rect x="1030" y="437" width="3" height="37" fill="#fff"/>
<rect x="1039" y="427" width="1" height="26" fill="#000"/>
<rect x="1037" y="438" width="5" height="6" fill="#000"/>
<rect x="1047" y="455" width="1" height="21" fill="#000"/>
<rect x="1045" y="462" width="5" height="11" fill="#000"/>
<rect x="1046" y="463" width="3" height="9" fill="#fff"/>
<rect x="1055" y="459" width="1" height="26" fill="#000"/>
<rect x="1053" y="464" width="5" height="20" fill="#000"/>
<rect x="1063" y="445" width="1" height="24" fill="#000"/>
<rect x="1061" y="449" width="5" height="19" fill="#000"/>
<rect x="1062" y="450" width="3" height="17" fill="#fff"/>
<rect x="1071" y="437" width="1" height="20" fill="#000"/>
<rect x="1069" y="442" width="5" height="8" fill="#000"/>
<rect x="1070" y="443" width="3" height="6" fill="#fff"/>
<rect x="1079" y="419" width="1" height="34" fill="#000"/>
<rect x="1077" y="421" width="5" height="28" fill="#000"/>
<rect x="1087" y="431" width="1" height="18" fill="#000"/>
<rect x="1085" y="432" width="5" height="16" fill="#000"/>
<rect x="1086" y="433" width="3" height="14" fill="#fff"/>
<rect x="1095" y="399" width="1" height="27" fill="#000"/>
<rect x="1093" y="401" width="5" height="24" fill="#000"/>
<rect x="1094" y="402" width="3" height="22" fill="#fff"/>
<rect x="1103" y="382" width="1" height="23" fill="#000"/>
<rect x="1101" y="382" width="5" height="20" fill="#000"/>
<rect x="1102" y="383" width="3" height="18" fill="#fff"/>
<rect x="1111" y="386" width="1" height="19" fill="#000"/>
<rect x="1109" y="388" width="5" height="12" fill="#000"/>
<rect x="1119" y="379" width="1" height="22" fill="#000"/>
<rect x="1117" y="390" width="5" height="11" fill="#000"/>
<rect x="1118" y="391" width="3" height="9" fill="#fff"/>
<rect x="1127" y="410" width="1" height="31" fill="#000"/>
<rect x="1125" y="419" width="5" height="8" fill="#000"/>
<rect x="1126" y="420" width="3" height="6" fill="#fff"/>
<rect x="1135" y="415" width="1" height="16" fill="#000"/>
<rect x="1133" y="418" width="5" height="7" fill="#000"/>
<rect x="1143" y="385" width="1" height="17" fill="#000"/>
<rect x="1141" y="393" width="5" height="4" fill="#000"/>
<rect x="1142" y="394" width="3" height="2" fill="#fff"/>
<rect x="1151" y="369" width="1" height="26" fill="#000"/>
<rect x="1149" y="379" width="5" height="13" fill="#000"/>
<rect x="1150" y="380" width="3" height="11" fill="#fff"/>
<rect x="1159" y="376" width="1" height="34" fill="#000"/>
<rect x="1157" y="376" width="5" height="32" fill="#000"/>
<rect x="1167" y="389" width="1" height="21" fill="#000"/>
<rect x="1165" y="394" width="5" height="15" fill="#000"/>
<rect x="1166" y="395" width="3" height="13" fill="#fff"/>
<rect x="1175" y="388" width="1" height="31" fill="#000"/>
<rect x="1173" y="397" width="5" height="17" fill="#000"/>
<rect x="1183" y="414" width="1" height="16" fill="#000"/>
<rect x="1181" y="414" width="5" height="4" fill="#000"/>
<rect x="1191" y="403" width="1" height="20" fill="#000"/>
<rect x="1189" y="407" width="5" height="16" fill="#000"/>
<rect x="1190" y="408" width="3" height="14" fill="#fff"/>
<rect x="1199" y="396" width="1" height="23" fill="#000"/>
<rect x="1197" y="408" width="5" height="10" fill="#000"/>
<rect x="1207" y="401" width="1" height="34" fill="#000"/>
<rect x="1205" y="403" width="5" height="12" fill="#000"/>
<rect x="1215" y="415" width="1" height="16" fill="#000"/>
<rect x="1213" y="416" width="5" height="7" fill="#000"/>
<rect x="1223" y="379" width="1" height="21" fill="#000"/>
<rect x="1221" y="389" width="5" height="10" fill="#000"/>
<rect x="1222" y="390" width="3" height="8" fill="#fff"/>
<rect x="1231" y="382" width="1" height="21" fill="#000"/>
<rect x="1229" y="383" width="5" height="6" fill="#000"/>
<rect x="1230" y="384" width="3" height="4" fill="#fff"/>
<rect x="1239" y="350" width="1" height="25" fill="#000"/>
<rect x="1237" y="356" width="5" height="17" fill="#000"/>
<rect x="1238" y="357" width="3" height="15" fill="#fff"/>
<rect x="1247" y="350" width="1" height="12" fill="#000"/>
<rect x="1245" y="351" width="5" height="6" fill="#000"/>
<rect x="1246" y="352" width="3" height="4" fill="#fff"/>
<rect x="1255" y="343" width="1" height="20" fill="#000"/>
<rect x="1253" y="348" width="5" height="11" fill="#000"/>
<rect x="1254" y="349" width="3" height="9" fill="#fff"/>
<rect x="1263" y="319" width="1" height="29" fill="#000"/>
<rect x="1261" y="321" width="5" height="26" fill="#000"/>
<rect x="1262" y="322" width="3" height="24" fill="#fff"/>
<rect x="1271" y="327" width="1" height="22" fill="#000"/>
<rect x="1269" y="330" width="5" height="12" fill="#000"/>
<rect x="1279" y="334" width="1" height="16" fill="#000"/>
<rect x="1277" y="341" width="5" height="3" fill="#000"/>
<rect x="1287" y="355" width="1" height="17" fill="#000"/>
<rect x="1285" y="360" width="5" height="7" fill="#000"/>
<rect x="1295" y="352" width="1" height="18" fill="#000"/>
<rect x="1293" y="354" width="5" height="11" fill="#000"/>
<rect x="1294" y="355" width="3" height="9" fill="#fff"/>
<rect x="1303" y="332" width="1" height="30" fill="#000"/>
<rect x="1301" y="333" width="5" height="6" fill="#000"/>
<rect x="1311" y="304" width="1" height="35" fill="#000"/>
<rect x="1309" y="306" width="5" height="31" fill="#000"/>
<rect x="1310" y="307" width="3" height="29" fill="#fff"/>
<rect x="1319" y="305" width="1" height="26" fill="#000"/>
<rect x="1317" y="313" width="5" height="10" fill="#000"/>
<rect x="1318" y="314" width="3" height="8" fill="#fff"/>
<rect x="1327" y="304" width="1" height="28" fill="#000"/>
<rect x="1325" y="313" width="5" height="12" fill="#000"/>
<rect x="1335" y="285" width="1" height="24" fill="#000"/>
<rect x="1333" y="293" width="5" height="9" fill="#000"/>
<rect x="1334" y="294" width="3" height="7" fill="#fff"/>
<rect x="1343" y="281" width="1" height="19" fill="#000"/>
<rect x="1341" y="286" width="5" height="9" fill="#000"/>
<rect x="1342" y="287" width="3" height="7" fill="#fff"/>
<rect x="1351" y="272" width="1" height="23" fill="#000"/>
<rect x="1349" y="277" width="5" height="8" fill="#000"/>
<rect x="1359" y="282" width="1" height="17" fill="#000"/>
<rect x="1357" y="286" width="5" height="6" fill="#000"/>
<rect x="1367" y="290" width="1" height="36" fill="#000"/>
<rect x="1365" y="296" width="5" height="26" fill="#000"/>
<rect x="1366" y="297" width="3" height="24" fill="#fff"/>
<rect x="1375" y="288" width="1" height="17" fill="#000"/>
<rect x="1373" y="298" width="5" height="1" fill="#000"/>
<rect x="1383" y="335" width="1" height="16" fill="#000"/>
<rect x="1381" y="343" width="5" height="2" fill="#000"/>
<rect x="1391" y="344" width="1" height="17" fill="#000"/>
<rect x="1389" y="345" width="5" height="16" fill="#000"/>
<rect x="1399" y="361" width="1" height="22" fill="#000"/>
<rect x="1397" y="368" width="5" height="13" fill="#000"/>
<rect x="1398" y="369" width="3" height="11" fill="#fff"/>
<rect x="1407" y="346" width="1" height="23" fill="#000"/>
<rect x="1405" y="357" width="5" height="11" fill="#000"/>
<rect x="1406" y="358" width="3" height="9" fill="#fff"/>
<rect x="1415" y="329" width="1" height="27" fill="#000"/>
<rect x="1413" y="332" width="5" height="17" fill="#000"/>
<rect x="1414" y="333" width="3" height="15" fill="#fff"/>
<rect x="1423" y="326" width="1" height="16" fill="#000"/>
<rect x="1421" y="333" width="5" height="7" fill="#000"/>
</g>
</g>
<g clip-path="url(#cm)">
<rect x="392.5" y="548.5" width="61" height="18" fill="#fff" stroke="#ff0000" stroke-width="1" shape-rendering="crispEdges"/>
<text x="395.3" y="564.1" font-size="17" fill="#ff0000" stroke="#ff0000" stroke-width="0.25" textLength="56.8" lengthAdjust="spacingAndGlyphs">18236.0</text>
<rect x="454" y="557" width="9" height="1" fill="#f00" shape-rendering="crispEdges"/>
<rect x="1026.5" y="487.5" width="60" height="18" fill="#fff" stroke="#ff0000" stroke-width="1" shape-rendering="crispEdges"/>
<text x="1028.3" y="503.1" font-size="17" fill="#ff0000" stroke="#ff0000" stroke-width="0.25" textLength="57" lengthAdjust="spacingAndGlyphs">19058.7</text>
<rect x="1015" y="496" width="11" height="1" fill="#f00" shape-rendering="crispEdges"/>
<rect x="1154.5" y="328.5" width="73" height="24" fill="#fff" stroke="#ff0000" stroke-width="1" shape-rendering="crispEdges"/>
<text x="1155.9" y="349.2" font-size="22.6" fill="#ff0000" stroke="#ff0000" stroke-width="0.45" textLength="70.4" lengthAdjust="spacingAndGlyphs">21129.6</text>
<rect x="1144" y="340" width="10" height="1" fill="#f00" shape-rendering="crispEdges"/>
<rect x="1280.5" y="263.5" width="61" height="18" fill="#fff" stroke="#ff0000" stroke-width="1" shape-rendering="crispEdges"/>
<text x="1282.7" y="279.1" font-size="17" fill="#ff0000" stroke="#ff0000" stroke-width="0.25" textLength="57.3" lengthAdjust="spacingAndGlyphs">22032.3</text>
<rect x="1342" y="272" width="10" height="1" fill="#f00" shape-rendering="crispEdges"/>
<rect x="1328.5" y="373.5" width="61" height="18" fill="#fff" stroke="#ff0000" stroke-width="1" shape-rendering="crispEdges"/>
<text x="1330.6" y="389.1" font-size="17" fill="#ff0000" stroke="#ff0000" stroke-width="0.25" textLength="57.3" lengthAdjust="spacingAndGlyphs">20572.0</text>
<rect x="1390" y="382" width="9" height="1" fill="#f00" shape-rendering="crispEdges"/>
<line x1="1199.50" y1="424.50" x2="1345.75" y2="289.76" stroke="#ff0000" stroke-width="3.4" stroke-linecap="butt"/><polygon points="1352.00,284.00 1347.26,294.35 1341.30,287.88" fill="#ff0000"/>
<line x1="1352.00" y1="284.00" x2="1389.08" y2="368.22" stroke="#ff0000" stroke-width="3.4" stroke-linecap="butt"/><polygon points="1392.50,376.00 1384.24,368.16 1392.30,364.62" fill="#ff0000"/>
<line x1="1392.00" y1="375.00" x2="1441.51" y2="333.09" stroke="#ff0000" stroke-width="3.4" stroke-linecap="butt"/><polygon points="1448.00,327.60 1442.83,337.74 1437.14,331.03" fill="#ff0000"/>
</g>
<g clip-path="url(#cmacd)">
<g shape-rendering="crispEdges">
<rect x="7" y="622" width="1" height="8" fill="#c0c0c0"/>
<rect x="15" y="622" width="1" height="9" fill="#c0c0c0"/>
<rect x="23" y="622" width="1" height="3" fill="#c0c0c0"/>
<rect x="39" y="620" width="1" height="3" fill="#c0c0c0"/>
<rect x="47" y="617" width="1" height="6" fill="#c0c0c0"/>
<rect x="55" y="618" width="1" height="5" fill="#c0c0c0"/>
<rect x="63" y="617" width="1" height="6" fill="#c0c0c0"/>
<rect x="71" y="612" width="1" height="11" fill="#c0c0c0"/>
<rect x="79" y="609" width="1" height="14" fill="#c0c0c0"/>
<rect x="87" y="607" width="1" height="16" fill="#c0c0c0"/>
<rect x="95" y="604" width="1" height="19" fill="#c0c0c0"/>
<rect x="103" y="602" width="1" height="21" fill="#c0c0c0"/>
<rect x="111" y="601" width="1" height="22" fill="#c0c0c0"/>
<rect x="119" y="603" width="1" height="20" fill="#c0c0c0"/>
<rect x="127" y="606" width="1" height="17" fill="#c0c0c0"/>
<rect x="135" y="610" width="1" height="13" fill="#c0c0c0"/>
<rect x="143" y="611" width="1" height="12" fill="#c0c0c0"/>
<rect x="151" y="611" width="1" height="12" fill="#c0c0c0"/>
<rect x="159" y="611" width="1" height="12" fill="#c0c0c0"/>
<rect x="167" y="612" width="1" height="11" fill="#c0c0c0"/>
<rect x="175" y="611" width="1" height="12" fill="#c0c0c0"/>
<rect x="183" y="612" width="1" height="11" fill="#c0c0c0"/>
<rect x="191" y="615" width="1" height="8" fill="#c0c0c0"/>
<rect x="199" y="619" width="1" height="4" fill="#c0c0c0"/>
<rect x="215" y="622" width="1" height="9" fill="#c0c0c0"/>
<rect x="223" y="622" width="1" height="15" fill="#c0c0c0"/>
<rect x="231" y="622" width="1" height="19" fill="#c0c0c0"/>
<rect x="239" y="622" width="1" height="21" fill="#c0c0c0"/>
<rect x="247" y="622" width="1" height="29" fill="#c0c0c0"/>
<rect x="255" y="622" width="1" height="37" fill="#c0c0c0"/>
<rect x="263" y="622" width="1" height="41" fill="#c0c0c0"/>
<rect x="271" y="622" width="1" height="47" fill="#c0c0c0"/>
<rect x="279" y="622" width="1" height="52" fill="#c0c0c0"/>
<rect x="287" y="622" width="1" height="53" fill="#c0c0c0"/>
<rect x="295" y="622" width="1" height="55" fill="#c0c0c0"/>
<rect x="303" y="622" width="1" height="56" fill="#c0c0c0"/>
<rect x="311" y="622" width="1" height="57" fill="#c0c0c0"/>
<rect x="319" y="622" width="1" height="57" fill="#c0c0c0"/>
<rect x="327" y="622" width="1" height="57" fill="#c0c0c0"/>
<rect x="335" y="622" width="1" height="56" fill="#c0c0c0"/>
<rect x="343" y="622" width="1" height="59" fill="#c0c0c0"/>
<rect x="351" y="622" width="1" height="61" fill="#c0c0c0"/>
<rect x="359" y="622" width="1" height="69" fill="#c0c0c0"/>
<rect x="367" y="622" width="1" height="75" fill="#c0c0c0"/>
<rect x="375" y="622" width="1" height="79" fill="#c0c0c0"/>
<rect x="383" y="622" width="1" height="83" fill="#c0c0c0"/>
<rect x="391" y="622" width="1" height="89" fill="#c0c0c0"/>
<rect x="399" y="622" width="1" height="91" fill="#c0c0c0"/>
<rect x="407" y="622" width="1" height="89" fill="#c0c0c0"/>
<rect x="415" y="622" width="1" height="86" fill="#c0c0c0"/>
<rect x="423" y="622" width="1" height="84" fill="#c0c0c0"/>
<rect x="431" y="622" width="1" height="85" fill="#c0c0c0"/>
<rect x="439" y="622" width="1" height="90" fill="#c0c0c0"/>
<rect x="447" y="622" width="1" height="95" fill="#c0c0c0"/>
<rect x="455" y="622" width="1" height="101" fill="#c0c0c0"/>
<rect x="463" y="622" width="1" height="111" fill="#c0c0c0"/>
<rect x="471" y="622" width="1" height="113" fill="#c0c0c0"/>
<rect x="479" y="622" width="1" height="102" fill="#c0c0c0"/>
<rect x="487" y="622" width="1" height="83" fill="#c0c0c0"/>
<rect x="495" y="622" width="1" height="65" fill="#c0c0c0"/>
<rect x="503" y="622" width="1" height="55" fill="#c0c0c0"/>
<rect x="511" y="622" width="1" height="43" fill="#c0c0c0"/>
<rect x="519" y="622" width="1" height="32" fill="#c0c0c0"/>
<rect x="527" y="622" width="1" height="25" fill="#c0c0c0"/>
<rect x="535" y="622" width="1" height="18" fill="#c0c0c0"/>
<rect x="543" y="622" width="1" height="8" fill="#c0c0c0"/>
<rect x="551" y="619" width="1" height="4" fill="#c0c0c0"/>
<rect x="559" y="611" width="1" height="12" fill="#c0c0c0"/>
<rect x="567" y="605" width="1" height="18" fill="#c0c0c0"/>
<rect x="575" y="603" width="1" height="20" fill="#c0c0c0"/>
<rect x="583" y="604" width="1" height="19" fill="#c0c0c0"/>
<rect x="591" y="607" width="1" height="16" fill="#c0c0c0"/>
<rect x="599" y="607" width="1" height="16" fill="#c0c0c0"/>
<rect x="607" y="606" width="1" height="17" fill="#c0c0c0"/>
<rect x="615" y="605" width="1" height="18" fill="#c0c0c0"/>
<rect x="623" y="604" width="1" height="19" fill="#c0c0c0"/>
<rect x="631" y="601" width="1" height="22" fill="#c0c0c0"/>
<rect x="639" y="599" width="1" height="24" fill="#c0c0c0"/>
<rect x="647" y="599" width="1" height="24" fill="#c0c0c0"/>
<rect x="655" y="600" width="1" height="23" fill="#c0c0c0"/>
<rect x="663" y="602" width="1" height="21" fill="#c0c0c0"/>
<rect x="671" y="602" width="1" height="21" fill="#c0c0c0"/>
<rect x="679" y="600" width="1" height="23" fill="#c0c0c0"/>
<rect x="687" y="597" width="1" height="26" fill="#c0c0c0"/>
<rect x="695" y="598" width="1" height="25" fill="#c0c0c0"/>
<rect x="703" y="598" width="1" height="25" fill="#c0c0c0"/>
<rect x="711" y="604" width="1" height="19" fill="#c0c0c0"/>
<rect x="719" y="607" width="1" height="16" fill="#c0c0c0"/>
<rect x="727" y="611" width="1" height="12" fill="#c0c0c0"/>
<rect x="735" y="612" width="1" height="11" fill="#c0c0c0"/>
<rect x="743" y="618" width="1" height="5" fill="#c0c0c0"/>
<rect x="759" y="622" width="1" height="8" fill="#c0c0c0"/>
<rect x="767" y="622" width="1" height="10" fill="#c0c0c0"/>
<rect x="775" y="622" width="1" height="11" fill="#c0c0c0"/>
<rect x="783" y="622" width="1" height="13" fill="#c0c0c0"/>
<rect x="791" y="622" width="1" height="13" fill="#c0c0c0"/>
<rect x="799" y="622" width="1" height="11" fill="#c0c0c0"/>
<rect x="807" y="622" width="1" height="13" fill="#c0c0c0"/>
<rect x="815" y="622" width="1" height="17" fill="#c0c0c0"/>
<rect x="823" y="622" width="1" height="18" fill="#c0c0c0"/>
<rect x="831" y="622" width="1" height="19" fill="#c0c0c0"/>
<rect x="839" y="622" width="1" height="25" fill="#c0c0c0"/>
<rect x="847" y="622" width="1" height="28" fill="#c0c0c0"/>
<rect x="855" y="622" width="1" height="29" fill="#c0c0c0"/>
<rect x="863" y="622" width="1" height="31" fill="#c0c0c0"/>
<rect x="871" y="622" width="1" height="37" fill="#c0c0c0"/>
<rect x="879" y="622" width="1" height="43" fill="#c0c0c0"/>
<rect x="887" y="622" width="1" height="43" fill="#c0c0c0"/>
<rect x="895" y="622" width="1" height="45" fill="#c0c0c0"/>
<rect x="903" y="622" width="1" height="47" fill="#c0c0c0"/>
<rect x="911" y="622" width="1" height="49" fill="#c0c0c0"/>
<rect x="919" y="622" width="1" height="49" fill="#c0c0c0"/>
<rect x="927" y="622" width="1" height="45" fill="#c0c0c0"/>
<rect x="935" y="622" width="1" height="39" fill="#c0c0c0"/>
<rect x="943" y="622" width="1" height="31" fill="#c0c0c0"/>
<rect x="951" y="622" width="1" height="23" fill="#c0c0c0"/>
<rect x="959" y="622" width="1" height="17" fill="#c0c0c0"/>
<rect x="967" y="622" width="1" height="15" fill="#c0c0c0"/>
<rect x="975" y="622" width="1" height="13" fill="#c0c0c0"/>
<rect x="983" y="622" width="1" height="9" fill="#c0c0c0"/>
<rect x="991" y="622" width="1" height="9" fill="#c0c0c0"/>
<rect x="999" y="622" width="1" height="15" fill="#c0c0c0"/>
<rect x="1007" y="622" width="1" height="19" fill="#c0c0c0"/>
<rect x="1015" y="622" width="1" height="27" fill="#c0c0c0"/>
<rect x="1023" y="622" width="1" height="33" fill="#c0c0c0"/>
<rect x="1031" y="622" width="1" height="33" fill="#c0c0c0"/>
<rect x="1039" y="622" width="1" height="33" fill="#c0c0c0"/>
<rect x="1047" y="622" width="1" height="35" fill="#c0c0c0"/>
<rect x="1055" y="622" width="1" height="39" fill="#c0c0c0"/>
<rect x="1063" y="622" width="1" height="39" fill="#c0c0c0"/>
<rect x="1071" y="622" width="1" height="35" fill="#c0c0c0"/>
<rect x="1079" y="622" width="1" height="34" fill="#c0c0c0"/>
<rect x="1087" y="622" width="1" height="31" fill="#c0c0c0"/>
<rect x="1095" y="622" width="1" height="25" fill="#c0c0c0"/>
<rect x="1103" y="622" width="1" height="17" fill="#c0c0c0"/>
<rect x="1111" y="622" width="1" height="13" fill="#c0c0c0"/>
<rect x="1119" y="622" width="1" height="8" fill="#c0c0c0"/>
<rect x="1127" y="622" width="1" height="8" fill="#c0c0c0"/>
<rect x="1135" y="622" width="1" height="8" fill="#c0c0c0"/>
<rect x="1143" y="622" width="1" height="5" fill="#c0c0c0"/>
<rect x="1167" y="621" width="1" height="2" fill="#c0c0c0"/>
<rect x="1207" y="622" width="1" height="2" fill="#c0c0c0"/>
<rect x="1215" y="622" width="1" height="3" fill="#c0c0c0"/>
<rect x="1231" y="620" width="1" height="3" fill="#c0c0c0"/>
<rect x="1239" y="615" width="1" height="8" fill="#c0c0c0"/>
<rect x="1247" y="610" width="1" height="13" fill="#c0c0c0"/>
<rect x="1255" y="606" width="1" height="17" fill="#c0c0c0"/>
<rect x="1263" y="600" width="1" height="23" fill="#c0c0c0"/>
<rect x="1271" y="598" width="1" height="25" fill="#c0c0c0"/>
<rect x="1279" y="597" width="1" height="26" fill="#c0c0c0"/>
<rect x="1287" y="599" width="1" height="24" fill="#c0c0c0"/>
<rect x="1295" y="600" width="1" height="23" fill="#c0c0c0"/>
<rect x="1303" y="598" width="1" height="25" fill="#c0c0c0"/>
<rect x="1311" y="594" width="1" height="29" fill="#c0c0c0"/>
<rect x="1319" y="592" width="1" height="31" fill="#c0c0c0"/>
<rect x="1327" y="592" width="1" height="31" fill="#c0c0c0"/>
<rect x="1335" y="588" width="1" height="35" fill="#c0c0c0"/>
<rect x="1343" y="585" width="1" height="38" fill="#c0c0c0"/>
<rect x="1351" y="584" width="1" height="39" fill="#c0c0c0"/>
<rect x="1359" y="583" width="1" height="40" fill="#c0c0c0"/>
<rect x="1367" y="586" width="1" height="37" fill="#c0c0c0"/>
<rect x="1375" y="586" width="1" height="37" fill="#c0c0c0"/>
<rect x="1383" y="592" width="1" height="31" fill="#c0c0c0"/>
<rect x="1391" y="600" width="1" height="23" fill="#c0c0c0"/>
<rect x="1399" y="608" width="1" height="15" fill="#c0c0c0"/>
<rect x="1407" y="611" width="1" height="12" fill="#c0c0c0"/>
<rect x="1415" y="611" width="1" height="12" fill="#c0c0c0"/>
<rect x="1423" y="613" width="1" height="10" fill="#c0c0c0"/>
</g>
<polyline points="3.75,605.50 10.00,608.75 16.25,612.50 22.50,615.00 28.75,617.00 35.00,619.50 41.25,620.75 47.50,621.50 53.75,622.50 62.50,622.00 71.25,620.50 78.75,618.00 87.50,615.00 95.00,613.00 102.50,611.25 111.25,609.25 118.75,607.00 127.50,606.50 135.00,605.50 160.00,605.50 171.25,606.50 185.00,608.25 196.25,611.25 208.75,613.25 215.00,615.00 225.00,619.00 232.50,621.75 240.00,625.50 247.50,630.00 255.00,635.50 262.50,640.00 268.75,644.50 275.00,648.25 280.00,652.00 287.50,656.25 296.25,662.50 303.75,665.50 311.25,669.00 318.75,672.00 327.50,673.75 335.00,675.75 342.50,677.50 352.50,678.50 360.00,680.75 368.75,681.75 376.25,685.00 382.50,688.00 390.00,691.75 397.50,694.25 405.00,698.25 412.50,701.75 420.00,703.75 424.00,705.00 431.50,707.00 439.00,708.75 447.75,710.50 455.25,712.50 462.75,715.00 470.25,717.00 479.00,718.75 487.75,717.50 495.25,715.75 502.75,712.50 510.25,708.25 519.00,700.00 526.50,692.50 534.00,682.50 541.50,672.50 549.00,661.25 556.50,650.00 564.00,640.00 574.00,630.75 584.00,622.00 594.00,615.75 604.00,610.75 614.00,607.50 624.00,605.50 634.00,604.00 649.00,603.00 664.00,602.00 674.00,601.00 684.00,599.50 694.00,599.25 704.00,598.50 714.00,599.50 726.50,601.25 739.00,603.00 749.00,605.75 759.00,610.00 769.00,614.50 779.00,620.00 789.00,624.50 799.00,627.50 809.00,630.75 819.00,633.00 829.00,635.00 839.00,636.25 848.00,639.25 855.50,642.00 865.50,643.75 873.00,646.25 880.50,650.00 888.00,652.50 895.50,655.00 903.00,658.75 911.75,661.25 920.50,663.75 928.00,665.50 935.50,666.25 943.00,664.50 953.00,662.50 963.00,658.75 973.00,653.75 983.00,648.00 993.00,643.75 1003.00,639.50 1013.00,638.25 1023.00,639.25 1033.00,641.25 1043.00,645.00 1053.00,648.75 1063.00,651.75 1073.00,655.00 1083.00,656.25 1093.00,655.75 1103.00,653.75 1113.00,650.50 1123.00,646.25 1133.00,642.50 1143.00,638.00 1153.00,633.75 1163.00,629.50 1173.00,626.25 1183.00,624.50 1198.00,623.25 1208.00,622.50 1223.00,622.25 1230.00,622.00 1240.00,620.75 1255.00,619.00 1262.50,615.50 1272.50,612.00 1285.00,607.00 1295.00,603.75 1305.00,600.50 1315.00,598.00 1325.00,595.75 1335.00,593.75 1345.00,592.50 1355.00,590.75 1365.00,589.25 1370.00,586.50 1382.50,586.00 1390.00,587.00 1400.00,589.25 1410.00,592.50 1420.00,595.50" fill="none" stroke="#ff0000" stroke-width="1.15" stroke-dasharray="3 3"/>
</g>
<g clip-path="url(#crsi)">
<line x1="0" y1="781.5" x2="1650" y2="781.5" stroke="#c0c0c0" stroke-width="1" stroke-dasharray="3 3" shape-rendering="crispEdges"/>
<line x1="0" y1="832.5" x2="1650" y2="832.5" stroke="#c0c0c0" stroke-width="1" stroke-dasharray="3 3" shape-rendering="crispEdges"/>
<line x1="0" y1="893.5" x2="1650" y2="893.5" stroke="#c0c0c0" stroke-width="1" stroke-dasharray="3 3" shape-rendering="crispEdges"/>
<polyline points="-1.00,851.25 7.00,855.00 15.00,838.75 23.00,822.50 31.00,819.25 39.00,822.50 47.00,822.50 55.00,831.25 63.00,827.00 71.00,814.25 79.00,814.25 87.00,818.25 95.00,811.25 103.00,814.25 111.00,816.25 119.00,827.00 127.00,831.75 135.00,834.25 143.00,830.50 151.00,824.50 159.00,822.25 167.00,829.25 175.00,824.50 183.00,824.25 191.00,839.25 199.00,844.25 207.00,844.25 215.00,864.25 223.00,858.25 231.00,853.25 239.00,854.25 247.00,871.25 255.00,872.50 263.00,872.50 271.00,875.00 279.00,879.25 287.00,866.50 295.00,866.50 303.00,868.25 311.00,870.50 319.00,872.50 327.00,870.50 335.00,870.50 343.00,881.75 351.00,878.25 359.00,888.25 367.00,890.50 375.00,889.25 383.00,890.25 391.00,896.25 399.00,883.25 407.00,868.25 415.00,870.00 423.00,877.50 431.00,867.50 439.00,877.00 447.00,879.25 455.00,885.00 463.00,890.00 471.00,873.75 479.00,845.00 487.00,828.25 495.00,825.25 503.00,832.00 511.00,826.25 519.00,827.50 527.00,829.50 535.00,826.25 543.00,819.25 551.00,814.25 559.00,817.50 567.00,816.25 575.00,821.25 583.00,828.25 591.00,833.25 599.00,827.50 607.00,826.25 615.00,825.25 623.00,822.25 631.00,818.50 639.00,818.50 647.00,822.25 655.00,823.50 663.00,827.25 671.00,823.00 679.00,816.75 687.00,812.00 695.00,822.25 703.00,825.50 711.00,834.25 719.00,833.00 727.00,836.50 735.00,829.50 743.00,845.00 751.00,850.00 759.00,851.75 767.00,843.75 775.00,842.25 783.00,843.25 791.00,838.75 799.00,835.25 807.00,848.00 815.00,851.50 823.00,843.25 831.00,850.00 839.00,858.50 847.00,856.25 855.00,858.25 863.00,856.50 871.00,867.50 879.00,872.00 887.00,855.50 895.00,860.00 903.00,863.25 911.00,863.25 919.00,854.25 927.00,849.50 935.00,836.75 943.00,824.75 951.00,823.50 959.00,826.25 967.00,833.25 975.00,833.25 983.00,827.25 991.00,836.25 999.00,854.00 1007.00,855.50 1015.00,865.25 1023.00,860.50 1031.00,847.25 1039.00,849.25 1047.00,855.00 1055.00,860.25 1063.00,846.75 1071.00,843.50 1079.00,844.50 1087.00,838.25 1095.00,827.00 1103.00,821.50 1111.00,827.25 1119.00,824.50 1127.00,835.25 1135.00,837.25 1143.00,826.00 1151.00,822.25 1159.00,832.00 1167.00,828.25 1175.00,834.00 1183.00,836.25 1191.00,832.25 1199.00,836.25 1207.00,835.50 1215.00,838.50 1223.00,824.50 1231.00,822.25 1239.00,813.25 1247.00,812.00 1255.00,810.25 1263.00,802.25 1271.00,812.75 1279.00,814.25 1287.00,825.25 1295.00,820.75 1303.00,815.00 1311.00,805.25 1319.00,810.00 1327.00,814.25 1335.00,805.50 1343.00,804.25 1351.00,804.25 1359.00,806.25 1367.00,810.25 1375.00,810.25 1383.00,836.25 1391.00,841.25 1399.00,844.50 1407.00,840.00 1415.00,832.50 1423.00,830.75" fill="none" stroke="#1e90ff" stroke-width="1.1" stroke-linejoin="round"/>
</g>
<line x1="1366.50" y1="585.00" x2="1387.30" y2="601.95" stroke="#ff0000" stroke-width="3.4" stroke-linecap="butt"/><polygon points="1393.50,607.00 1382.91,604.17 1388.59,597.19" fill="#ff0000"/>
<line x1="1392.00" y1="607.50" x2="1422.50" y2="607.50" stroke="#ff0000" stroke-width="3.4" stroke-linecap="butt"/><polygon points="1431.50,607.50 1420.50,611.75 1420.50,603.25" fill="#ff0000"/>
<line x1="1375.00" y1="839.50" x2="1414.16" y2="831.99" stroke="#ff0000" stroke-width="3.4" stroke-linecap="butt"/><polygon points="1423.00,830.30 1413.04,836.79 1411.35,827.95" fill="#ff0000"/>
<text x="-4.5" y="586" font-size="9.8" fill="#000" stroke="#000" stroke-width="0.1" text-anchor="start" font-weight="normal" textLength="122" lengthAdjust="spacingAndGlyphs" >MACD(12,26,9) 98.51 232.21</text>
<text x="-6" y="758" font-size="9.8" fill="#000" stroke="#000" stroke-width="0.1" text-anchor="start" font-weight="normal" textLength="68.5" lengthAdjust="spacingAndGlyphs" >RSI(14) 51.2325</text>
<g shape-rendering="crispEdges" fill="#000">
<rect x="0" y="18" width="1651" height="1"/>
<rect x="1650" y="18" width="1" height="902"/>
<rect x="0" y="571" width="1651" height="1"/>
<rect x="0" y="573" width="1651" height="1"/>
<rect x="0" y="743" width="1651" height="1"/>
<rect x="0" y="745" width="1651" height="1"/>
<rect x="0" y="919" width="1652" height="1"/>
<rect x="55" y="919" width="1" height="4"/>
<rect x="119" y="919" width="1" height="4"/>
<rect x="183" y="919" width="1" height="4"/>
<rect x="247" y="919" width="1" height="4"/>
<rect x="311" y="919" width="1" height="4"/>
<rect x="375" y="919" width="1" height="4"/>
<rect x="439" y="919" width="1" height="4"/>
<rect x="503" y="919" width="1" height="4"/>
<rect x="567" y="919" width="1" height="4"/>
<rect x="631" y="919" width="1" height="4"/>
<rect x="695" y="919" width="1" height="4"/>
<rect x="759" y="919" width="1" height="4"/>
<rect x="823" y="919" width="1" height="4"/>
<rect x="887" y="919" width="1" height="4"/>
<rect x="951" y="919" width="1" height="4"/>
<rect x="1015" y="919" width="1" height="4"/>
<rect x="1079" y="919" width="1" height="4"/>
<rect x="1143" y="919" width="1" height="4"/>
<rect x="1207" y="919" width="1" height="4"/>
<rect x="1271" y="919" width="1" height="4"/>
<rect x="1335" y="919" width="1" height="4"/>
<rect x="1399" y="919" width="1" height="4"/>
<rect x="1651" y="40" width="3" height="1"/>
<rect x="1651" y="73" width="3" height="1"/>
<rect x="1651" y="106" width="3" height="1"/>
<rect x="1651" y="139" width="3" height="1"/>
<rect x="1651" y="172" width="3" height="1"/>
<rect x="1651" y="205" width="3" height="1"/>
<rect x="1651" y="238" width="3" height="1"/>
<rect x="1651" y="271" width="3" height="1"/>
<rect x="1651" y="304" width="3" height="1"/>
<rect x="1651" y="337" width="3" height="1"/>
<rect x="1651" y="370" width="3" height="1"/>
<rect x="1651" y="403" width="3" height="1"/>
<rect x="1651" y="436" width="3" height="1"/>
<rect x="1651" y="469" width="3" height="1"/>
<rect x="1651" y="502" width="3" height="1"/>
<rect x="1651" y="535" width="3" height="1"/>
<rect x="1651" y="568" width="3" height="1"/>
<rect x="1651" y="574" width="2" height="1"/>
<rect x="1651" y="622" width="2" height="1"/>
<rect x="1651" y="743" width="2" height="1"/>
<rect x="1651" y="746" width="2" height="1"/>
<rect x="1651" y="919" width="2" height="1"/>
</g>
<text x="1656" y="44" font-size="9.8" fill="#000" stroke="#000" stroke-width="0.1" text-anchor="start" font-weight="normal" textLength="33.5" lengthAdjust="spacingAndGlyphs" >25122.0</text>
<text x="1656" y="77" font-size="9.8" fill="#000" stroke="#000" stroke-width="0.1" text-anchor="start" font-weight="normal" textLength="33.5" lengthAdjust="spacingAndGlyphs" >24680.0</text>
<text x="1656" y="110" font-size="9.8" fill="#000" stroke="#000" stroke-width="0.1" text-anchor="start" font-weight="normal" textLength="33.5" lengthAdjust="spacingAndGlyphs" >24238.0</text>
<text x="1656" y="143" font-size="9.8" fill="#000" stroke="#000" stroke-width="0.1" text-anchor="start" font-weight="normal" textLength="33.5" lengthAdjust="spacingAndGlyphs" >23796.0</text>
<text x="1656" y="176" font-size="9.8" fill="#000" stroke="#000" stroke-width="0.1" text-anchor="start" font-weight="normal" textLength="33.5" lengthAdjust="spacingAndGlyphs" >23367.0</text>
<text x="1656" y="209" font-size="9.8" fill="#000" stroke="#000" stroke-width="0.1" text-anchor="start" font-weight="normal" textLength="33.5" lengthAdjust="spacingAndGlyphs" >22925.0</text>
<text x="1656" y="242" font-size="9.8" fill="#000" stroke="#000" stroke-width="0.1" text-anchor="start" font-weight="normal" textLength="33.5" lengthAdjust="spacingAndGlyphs" >22483.0</text>
<text x="1656" y="275" font-size="9.8" fill="#000" stroke="#000" stroke-width="0.1" text-anchor="start" font-weight="normal" textLength="33.5" lengthAdjust="spacingAndGlyphs" >22041.0</text>
<text x="1656" y="308" font-size="9.8" fill="#000" stroke="#000" stroke-width="0.1" text-anchor="start" font-weight="normal" textLength="33.5" lengthAdjust="spacingAndGlyphs" >21612.0</text>
<text x="1656" y="341" font-size="9.8" fill="#000" stroke="#000" stroke-width="0.1" text-anchor="start" font-weight="normal" textLength="33.5" lengthAdjust="spacingAndGlyphs" >21170.0</text>
<text x="1656" y="374" font-size="9.8" fill="#000" stroke="#000" stroke-width="0.1" text-anchor="start" font-weight="normal" textLength="33.5" lengthAdjust="spacingAndGlyphs" >20728.0</text>
<text x="1656" y="407" font-size="9.8" fill="#000" stroke="#000" stroke-width="0.1" text-anchor="start" font-weight="normal" textLength="33.5" lengthAdjust="spacingAndGlyphs" >20286.0</text>
<text x="1656" y="440" font-size="9.8" fill="#000" stroke="#000" stroke-width="0.1" text-anchor="start" font-weight="normal" textLength="33.5" lengthAdjust="spacingAndGlyphs" >19857.0</text>
<text x="1656" y="473" font-size="9.8" fill="#000" stroke="#000" stroke-width="0.1" text-anchor="start" font-weight="normal" textLength="33.5" lengthAdjust="spacingAndGlyphs" >19415.0</text>
<text x="1656" y="506" font-size="9.8" fill="#000" stroke="#000" stroke-width="0.1" text-anchor="start" font-weight="normal" textLength="33.5" lengthAdjust="spacingAndGlyphs" >18973.0</text>
<text x="1656" y="539" font-size="9.8" fill="#000" stroke="#000" stroke-width="0.1" text-anchor="start" font-weight="normal" textLength="33.5" lengthAdjust="spacingAndGlyphs" >18531.0</text>
<text x="1656" y="572" font-size="9.8" fill="#000" stroke="#000" stroke-width="0.1" text-anchor="start" font-weight="normal" textLength="33.5" lengthAdjust="spacingAndGlyphs" >18102.0</text>
<text x="1654" y="584" font-size="9.8" fill="#000" stroke="#000" stroke-width="0.1" text-anchor="start" font-weight="normal" textLength="23.5" lengthAdjust="spacingAndGlyphs" >440.4</text>
<text x="1654" y="626" font-size="9.8" fill="#000" stroke="#000" stroke-width="0.1" text-anchor="start" font-weight="normal" textLength="19" lengthAdjust="spacingAndGlyphs" >0.00</text>
<text x="1654" y="740" font-size="9.8" fill="#000" stroke="#000" stroke-width="0.1" text-anchor="start" font-weight="normal" textLength="36" lengthAdjust="spacingAndGlyphs" >-1102.21</text>
<text x="1654" y="756" font-size="9.8" fill="#000" stroke="#000" stroke-width="0.1" text-anchor="start" font-weight="normal" textLength="14.5" lengthAdjust="spacingAndGlyphs" >100</text>
<text x="1653" y="785" font-size="9.8" fill="#000" stroke="#000" stroke-width="0.1" text-anchor="start" font-weight="normal" textLength="10" lengthAdjust="spacingAndGlyphs" >80</text>
<text x="1653" y="836" font-size="9.8" fill="#000" stroke="#000" stroke-width="0.1" text-anchor="start" font-weight="normal" textLength="10" lengthAdjust="spacingAndGlyphs" >50</text>
<text x="1653" y="897" font-size="9.8" fill="#000" stroke="#000" stroke-width="0.1" text-anchor="start" font-weight="normal" textLength="10" lengthAdjust="spacingAndGlyphs" >15</text>
<text x="1654" y="916" font-size="9.8" fill="#000" stroke="#000" stroke-width="0.1" text-anchor="start" font-weight="normal" >0</text>
<rect x="1652" y="333" width="41" height="2" fill="#000" shape-rendering="crispEdges"/>
<rect x="1652" y="277" width="41" height="11" fill="#ff0000" shape-rendering="crispEdges"/>
<text x="1656.3" y="286" font-size="9.8" fill="#fff" text-anchor="start" font-weight="normal" textLength="32.6" lengthAdjust="spacingAndGlyphs" >21886.3</text>
<rect x="1652" y="302" width="41" height="11" fill="#ff0000" shape-rendering="crispEdges"/>
<text x="1656.3" y="311" font-size="9.8" fill="#fff" text-anchor="start" font-weight="normal" textLength="32.6" lengthAdjust="spacingAndGlyphs" >21554.4</text>
<rect x="1652" y="334" width="41" height="11" fill="#32cd32" shape-rendering="crispEdges"/>
<text x="1656.3" y="343" font-size="9.8" fill="#fff" text-anchor="start" font-weight="normal" textLength="32.6" lengthAdjust="spacingAndGlyphs" >21129.6</text>
<rect x="1652" y="365" width="41" height="11" fill="#0000ff" shape-rendering="crispEdges"/>
<text x="1656.3" y="374" font-size="9.8" fill="#fff" text-anchor="start" font-weight="normal" textLength="32.6" lengthAdjust="spacingAndGlyphs" >20718.1</text>
<rect x="1652" y="395" width="41" height="11" fill="#0000ff" shape-rendering="crispEdges"/>
<text x="1656.3" y="404" font-size="9.8" fill="#fff" text-anchor="start" font-weight="normal" textLength="32.6" lengthAdjust="spacingAndGlyphs" >20319.8</text>
<rect x="1645.5" y="281.5" width="4" height="4" fill="#fff" stroke="#ff0000" stroke-width="1" shape-rendering="crispEdges"/>
<rect x="1645.5" y="306.5" width="4" height="4" fill="#fff" stroke="#ff0000" stroke-width="1" shape-rendering="crispEdges"/>
<rect x="1645.5" y="369.5" width="4" height="4" fill="#fff" stroke="#0000ff" stroke-width="1" shape-rendering="crispEdges"/>
<rect x="1645.5" y="399.5" width="4" height="4" fill="#fff" stroke="#0000ff" stroke-width="1" shape-rendering="crispEdges"/>
<text x="3" y="932" font-size="9.8" fill="#000" stroke="#000" stroke-width="0.1" text-anchor="start" font-weight="normal" textLength="37" lengthAdjust="spacingAndGlyphs" >Jan 2022</text>
<text x="54" y="932" font-size="9.8" fill="#000" stroke="#000" stroke-width="0.1" text-anchor="start" font-weight="normal" textLength="50" lengthAdjust="spacingAndGlyphs" >8 Feb 01:15</text>
<text x="118" y="932" font-size="9.8" fill="#000" stroke="#000" stroke-width="0.1" text-anchor="start" font-weight="normal" textLength="54.75" lengthAdjust="spacingAndGlyphs" >14 Feb 01:15</text>
<text x="182" y="932" font-size="9.8" fill="#000" stroke="#000" stroke-width="0.1" text-anchor="start" font-weight="normal" textLength="54.75" lengthAdjust="spacingAndGlyphs" >18 Feb 01:15</text>
<text x="246" y="932" font-size="9.8" fill="#000" stroke="#000" stroke-width="0.1" text-anchor="start" font-weight="normal" textLength="54.75" lengthAdjust="spacingAndGlyphs" >24 Feb 01:15</text>
<text x="310" y="932" font-size="9.8" fill="#000" stroke="#000" stroke-width="0.1" text-anchor="start" font-weight="normal" textLength="49.5" lengthAdjust="spacingAndGlyphs" >2 Mar 01:15</text>
<text x="374" y="932" font-size="9.8" fill="#000" stroke="#000" stroke-width="0.1" text-anchor="start" font-weight="normal" textLength="49.5" lengthAdjust="spacingAndGlyphs" >8 Mar 01:15</text>
<text x="438" y="932" font-size="9.8" fill="#000" stroke="#000" stroke-width="0.1" text-anchor="start" font-weight="normal" textLength="54.5" lengthAdjust="spacingAndGlyphs" >14 Mar 01:15</text>
<text x="502" y="932" font-size="9.8" fill="#000" stroke="#000" stroke-width="0.1" text-anchor="start" font-weight="normal" textLength="54.5" lengthAdjust="spacingAndGlyphs" >18 Mar 01:15</text>
<text x="566" y="932" font-size="9.8" fill="#000" stroke="#000" stroke-width="0.1" text-anchor="start" font-weight="normal" textLength="54.5" lengthAdjust="spacingAndGlyphs" >24 Mar 01:15</text>
<text x="630" y="932" font-size="9.8" fill="#000" stroke="#000" stroke-width="0.1" text-anchor="start" font-weight="normal" textLength="55" lengthAdjust="spacingAndGlyphs" >30 Mar 01:15</text>
<text x="694" y="932" font-size="9.8" fill="#000" stroke="#000" stroke-width="0.1" text-anchor="start" font-weight="normal" textLength="48.75" lengthAdjust="spacingAndGlyphs" >6 Apr 01:15</text>
<text x="758" y="932" font-size="9.8" fill="#000" stroke="#000" stroke-width="0.1" text-anchor="start" font-weight="normal" textLength="53.25" lengthAdjust="spacingAndGlyphs" >12 Apr 01:15</text>
<text x="822" y="932" font-size="9.8" fill="#000" stroke="#000" stroke-width="0.1" text-anchor="start" font-weight="normal" textLength="53.75" lengthAdjust="spacingAndGlyphs" >20 Apr 01:15</text>
<text x="886" y="932" font-size="9.8" fill="#000" stroke="#000" stroke-width="0.1" text-anchor="start" font-weight="normal" textLength="53.75" lengthAdjust="spacingAndGlyphs" >26 Apr 01:15</text>
<text x="950" y="932" font-size="9.8" fill="#000" stroke="#000" stroke-width="0.1" text-anchor="start" font-weight="normal" textLength="52.5" lengthAdjust="spacingAndGlyphs" >3 May 01:15</text>
<text x="1014" y="932" font-size="9.8" fill="#000" stroke="#000" stroke-width="0.1" text-anchor="start" font-weight="normal" textLength="57.5" lengthAdjust="spacingAndGlyphs" >10 May 01:15</text>
<text x="1078" y="932" font-size="9.8" fill="#000" stroke="#000" stroke-width="0.1" text-anchor="start" font-weight="normal" textLength="57.5" lengthAdjust="spacingAndGlyphs" >16 May 01:15</text>
<text x="1142" y="932" font-size="9.8" fill="#000" stroke="#000" stroke-width="0.1" text-anchor="start" font-weight="normal" textLength="57.5" lengthAdjust="spacingAndGlyphs" >20 May 01:15</text>
<text x="1206" y="932" font-size="9.8" fill="#000" stroke="#000" stroke-width="0.1" text-anchor="start" font-weight="normal" textLength="57.5" lengthAdjust="spacingAndGlyphs" >26 May 01:15</text>
<text x="1270" y="932" font-size="9.8" fill="#000" stroke="#000" stroke-width="0.1" text-anchor="start" font-weight="normal" textLength="47.75" lengthAdjust="spacingAndGlyphs" >1 Jun 01:15</text>
<text x="1334" y="932" font-size="9.8" fill="#000" stroke="#000" stroke-width="0.1" text-anchor="start" font-weight="normal" textLength="47.5" lengthAdjust="spacingAndGlyphs" >8 Jun 01:15</text>
<text x="1398" y="932" font-size="9.8" fill="#000" stroke="#000" stroke-width="0.1" text-anchor="start" font-weight="normal" textLength="52.75" lengthAdjust="spacingAndGlyphs" >14 Jun 01:15</text>
<rect x="1695.3" y="0" width="1.7" height="939" fill="#dcdcdc"/>
</svg>
<svg width="1697" height="939" viewBox="0 0 1697 939" style="position:absolute;left:0;top:0;font-family:&quot;Liberation Sans&quot;,sans-serif">
<defs>
<linearGradient id="gsell" x1="0" y1="0" x2="0" y2="1"><stop offset="0" stop-color="#5858ff"/><stop offset="1" stop-color="#3030d8"/></linearGradient>
<linearGradient id="gprice" x1="0" y1="0" x2="0" y2="1"><stop offset="0" stop-color="#3434e0"/><stop offset="0.5" stop-color="#1c1ccc"/><stop offset="1" stop-color="#0000a4"/></linearGradient>
<linearGradient id="gbtn" x1="0" y1="0" x2="0" y2="1"><stop offset="0" stop-color="#f4f4f4"/><stop offset="0.5" stop-color="#dcdcdc"/><stop offset="1" stop-color="#c8c8c8"/></linearGradient>
<linearGradient id="ggold" x1="0" y1="0" x2="1" y2="1"><stop offset="0" stop-color="#ffe680"/><stop offset="1" stop-color="#c88a10"/></linearGradient>
<linearGradient id="ggreen" x1="0" y1="0" x2="0" y2="1"><stop offset="0" stop-color="#50f050"/><stop offset="1" stop-color="#10b010"/></linearGradient>
</defs>
<text x="0" y="30" font-size="9.8" fill="#000" stroke="#000" stroke-width="0.1" text-anchor="start" font-weight="normal" >-</text>
<text x="6" y="30" font-size="9.8" fill="#000" stroke="#000" stroke-width="0.1" text-anchor="start" font-weight="normal" textLength="41" lengthAdjust="spacingAndGlyphs" >HK50-,H4</text>
<text x="53" y="30" font-size="9.8" fill="#000" stroke="#000" stroke-width="0.1" text-anchor="start" font-weight="normal" textLength="32.5" lengthAdjust="spacingAndGlyphs" >21219.0</text>
<text x="89.4" y="30" font-size="9.8" fill="#000" stroke="#000" stroke-width="0.1" text-anchor="start" font-weight="normal" textLength="32.5" lengthAdjust="spacingAndGlyphs" >21312.5</text>
<text x="125.5" y="30" font-size="9.8" fill="#000" stroke="#000" stroke-width="0.1" text-anchor="start" font-weight="normal" textLength="32.5" lengthAdjust="spacingAndGlyphs" >21123.5</text>
<text x="161.4" y="30" font-size="9.8" fill="#000" stroke="#000" stroke-width="0.1" text-anchor="start" font-weight="normal" textLength="32.5" lengthAdjust="spacingAndGlyphs" >21160.0</text>
<rect x="16" y="34.8" width="62" height="1.1" fill="#ff0000"/>
<rect x="0" y="36.3" width="213.5" height="26" fill="#ffffff"/>
<rect x="0" y="94" width="213.5" height="3" fill="#ffffff"/>
<rect x="0" y="38" width="46" height="24.5" fill="url(#gsell)"/>
<rect x="0" y="38" width="46" height="1" fill="#1414b4"/><rect x="45" y="38" width="1" height="24" fill="#1414b4"/>
<rect x="161" y="38" width="52" height="24.5" fill="url(#gsell)"/>
<rect x="161" y="38" width="52" height="1" fill="#1414b4"/><rect x="161" y="38" width="1" height="24" fill="#1414b4"/><rect x="212" y="38" width="1" height="24" fill="#1414b4"/>
<rect x="0" y="62" width="103" height="32.8" fill="url(#gprice)"/>
<rect x="105" y="62" width="108" height="32.8" fill="url(#gprice)"/>
<rect x="0" y="61" width="42" height="1" fill="#1818b8"/><rect x="0" y="62" width="42" height="1" fill="#8c8cf4"/>
<rect x="164.7" y="61" width="44.5" height="1" fill="#1818b8"/><rect x="164.7" y="62" width="44.5" height="1" fill="#8c8cf4"/>
<rect x="48.5" y="38.7" width="110" height="20.6" fill="#ffffff" stroke="#a8a8a8" stroke-width="1"/>
<rect x="50" y="40" width="18.5" height="8.5" fill="#ececec"/><rect x="50" y="48.5" width="18.5" height="9" fill="#d4d4d4"/>
<rect x="139.2" y="40" width="18" height="8.5" fill="#ececec"/><rect x="139.2" y="48.5" width="18" height="9" fill="#d4d4d4"/>
<rect x="69" y="39" width="1" height="20" fill="#b4b4b4"/>
<rect x="137.2" y="39" width="1" height="20" fill="#b4b4b4"/>
<polygon points="55.7,47.1 61,47.1 58.35,50.2" fill="#5068c4"/>
<polygon points="145,50.1 150.4,50.1 147.7,47" fill="#5068c4"/>
<text x="133.9" y="53.1" font-size="12.5" fill="#000" text-anchor="end" font-weight="normal" textLength="23.2" lengthAdjust="spacingAndGlyphs" >1.00</text>
<text x="6.7" y="53.8" font-size="11.5" fill="#fff" text-anchor="start" font-weight="normal" textLength="25.2" lengthAdjust="spacingAndGlyphs" >SELL</text>
<text x="174.8" y="53.8" font-size="11.5" fill="#fff" text-anchor="start" font-weight="normal" textLength="23.2" lengthAdjust="spacingAndGlyphs" >BUY</text>
<text x="10.4" y="89.7" font-size="12" fill="#fff" text-anchor="start" font-weight="bold" textLength="34.6" lengthAdjust="spacingAndGlyphs" >21158</text>
<rect x="49.8" y="86.3" width="3.9" height="3.4" fill="#fff"/>
<text x="56.2" y="89.7" font-size="32.8" fill="#fff" text-anchor="start" font-weight="normal" textLength="15.8" lengthAdjust="spacingAndGlyphs" >5</text>
<text x="120.4" y="89.7" font-size="12" fill="#fff" text-anchor="start" font-weight="bold" textLength="34.3" lengthAdjust="spacingAndGlyphs" >21171</text>
<rect x="160.5" y="86.3" width="3.9" height="3.4" fill="#fff"/>
<text x="167.6" y="89.7" font-size="32.8" fill="#fff" text-anchor="start" font-weight="normal" textLength="15.8" lengthAdjust="spacingAndGlyphs" >5</text>
<rect x="0" y="0" width="1697" height="14" fill="#f0f0f0"/>
<rect x="0" y="13" width="1697" height="1" fill="#e4e4e4"/>
<rect x="0" y="14" width="1697" height="1" fill="#a4a4a4"/>
<rect x="0" y="15" width="1697" height="1" fill="#8c8c8c"/>
<rect x="0" y="16" width="1697" height="2" fill="#ffffff"/>
<polygon points="0,6 2,5.5 4,9.5 2.5,11.5 0,9" fill="#d4a017"/>
<rect x="11" y="0" width="1" height="12" fill="#a0a0a0"/>
<rect x="21" y="-2" width="8" height="9.5" rx="1" fill="#fff" stroke="#9a9a9a" stroke-width="0.9"/>
<path d="M25,4 h12.5 v3.6 h-12.5z M29.4,-1 h3.8 v12.6 h-3.8z" fill="#28d428" stroke="#0a8c0a" stroke-width="0.9" stroke-linejoin="round"/>
<rect x="29.8" y="4.4" width="3" height="2.8" fill="#28d428"/>
<path d="M40.7,2.1 h5.3 M43.6,-1 v5.8 l-1,0.6 M41.8,3.3 l-1.3,2.2 M45.2,3.4 l0.9,1.6 M46.6,-1 q0,4 -1.4,6.2 M49.5,-1 v6.8 M47,1 h4" fill="none" stroke="#111" stroke-width="1"/>
<path d="M54.2,-1 v6.2 l2.4,-1.6 M52.5,-0.5 h1.7 M57.5,-1 h5.5 M60.8,-1 v6 q0,0.8 -2.6,0.6" fill="none" stroke="#111" stroke-width="1"/>
<path d="M66,0.4 h8.4 M66,-1 v1.4 M74.4,-1 v1.4 M64,3.5 h12 M70.2,-1 v7" fill="none" stroke="#111" stroke-width="1"/>
<polygon points="88,1 96,-4 104.5,1.5 104,4 96,10 88.5,4" fill="url(#ggold)" stroke="#b07a10" stroke-width="0.7"/>
<polygon points="88.3,2 96,8 104,2.5 104,4 96,10 88.5,4" fill="#c8901a"/>
<rect x="118" y="-2" width="10" height="6" fill="#2a7fd4"/>
<path d="M118,9.5 a3,3 0 0 1 0.5,-5.8 a4,4 0 0 1 7,-1.2 a3.2,3.2 0 0 1 5.5,2.5 a2.3,2.3 0 0 1 -0.5,4.5z" fill="#eef4fb" stroke="#6a92c8" stroke-width="0.9"/>
<path d="M146,-3 a9,9 0 0 0 6,12" fill="none" stroke="#5a8fd8" stroke-width="1.2"/>
<path d="M149,-3 a7,7 0 0 0 3.5,9" fill="none" stroke="#5a8fd8" stroke-width="1.2"/>
<path d="M152,-3 v13 a8,8 0 0 0 7,-13z" fill="#5ab05a"/>
<circle cx="152" cy="0" r="1.6" fill="#2a5fc0"/>
<path d="M171,-2 h13 v6 q-2,5 -6.5,6 q-6,-3 -6.5,-12z" fill="url(#ggold)" stroke="#c8a020" stroke-width="0.6"/>
<rect x="174" y="-2" width="8" height="2.5" fill="#4aa0e0"/>
<circle cx="183.5" cy="5.6" r="3.9" fill="#e02010"/>
<rect x="181.9" y="4" width="3.2" height="3.2" fill="#fff"/>
<path d="M193.9,-1 v6.5 M201.8,-1 v6.5 M193.9,1.9 h7.9 M193.9,5 h7.9 M193.9,-0.9 h7.9" fill="none" stroke="#111" stroke-width="1.1"/>
<path d="M205.3,0.5 h4.4 M207.6,0.5 l-2,3.6 h3.6 M208.6,2.6 l1.1,2.4 M210.5,-0.5 h5 M214.3,-0.5 v5 q0,1.2 -1.8,0.8 M212.4,-1 q0,4 -2.2,6.3" fill="none" stroke="#111" stroke-width="1"/>
<path d="M217.2,5.4 q6,-2 9.6,-5.4 M218.5,0 q3,4 9.3,5.4 M219.5,-1 l-1.8,1.6 M225,-1 l2,1.6" fill="none" stroke="#111" stroke-width="1"/>
<path d="M231,-1 v1.2 h6.4 v-1.2 M232.5,0.2 l-3,2.6 M231,2 h7.6 q0,3 -1.6,3.4 M233.6,2 l-3.2,3.6 M236,2 l-3,3.6" fill="none" stroke="#111" stroke-width="1"/>
<rect x="247" y="0" width="1" height="14" fill="#a0a0a0"/>
<rect x="251" y="0" width="3" height="1" fill="#b4b4b4"/>
<rect x="251" y="2" width="3" height="1" fill="#b4b4b4"/>
<rect x="251" y="4" width="3" height="1" fill="#b4b4b4"/>
<rect x="251" y="6" width="3" height="1" fill="#b4b4b4"/>
<rect x="251" y="8" width="3" height="1" fill="#b4b4b4"/>
<rect x="251" y="10" width="3" height="1" fill="#b4b4b4"/>
<rect x="265" y="0" width="1" height="10" fill="#6e6e6e"/>
<rect x="262.5" y="7" width="13" height="1" fill="#6e6e6e"/>
<polygon points="274.5,5.5 277,7.5 274.5,9.5" fill="#6e6e6e"/>
<path d="M271.5,-1 v5.5 h-2.5" fill="none" stroke="#1a9a3a" stroke-width="1.2"/>
<rect x="285" y="0" width="24" height="11.5" fill="#f8f8f8"/>
<rect x="293" y="0" width="1" height="10" fill="#6e6e6e"/>
<rect x="290.5" y="7" width="13" height="1" fill="#6e6e6e"/>
<polygon points="302.5,5.5 305,7.5 302.5,9.5" fill="#6e6e6e"/>
<rect x="297" y="-2" width="4.5" height="6" fill="#22b422" stroke="#0a7a0a" stroke-width="0.7"/><rect x="299" y="4" width="1" height="1.8" fill="#0a7a0a"/>
<rect x="321" y="0" width="1" height="10" fill="#6e6e6e"/>
<rect x="318.5" y="7" width="13" height="1" fill="#6e6e6e"/>
<polygon points="330.5,5.5 333,7.5 330.5,9.5" fill="#6e6e6e"/>
<path d="M320,5 q4,-7 6,-6 q2,1 5.5,4" fill="none" stroke="#2aa04a" stroke-width="1.1"/>
<rect x="342" y="0" width="1" height="12" fill="#a0a0a0"/>
<line x1="361" y1="3.5" x2="366.5" y2="9" stroke="#8a6a10" stroke-width="3.2" stroke-linecap="round"/>
<line x1="361" y1="3.5" x2="366.3" y2="8.8" stroke="#f0d040" stroke-width="1.8" stroke-linecap="round"/>
<circle cx="357" cy="-0.5" r="5.6" fill="#d6ecfb" stroke="#3a82d0" stroke-width="1.3"/>
<rect x="354.5" y="-0.2" width="5" height="1.4" fill="#2a72c8"/>
<line x1="389" y1="3.5" x2="394.5" y2="9" stroke="#8a6a10" stroke-width="3.2" stroke-linecap="round"/>
<line x1="389" y1="3.5" x2="394.3" y2="8.8" stroke="#f0d040" stroke-width="1.8" stroke-linecap="round"/>
<circle cx="385" cy="-0.5" r="5.6" fill="#d6ecfb" stroke="#3a82d0" stroke-width="1.3"/>
<rect x="382.5" y="-0.2" width="5" height="1.4" fill="#2a72c8"/>
<rect x="407" y="-2" width="7.6" height="3" fill="#2aa02a"/><rect x="415.2" y="-2" width="7.8" height="3" fill="#2a62d8"/>
<rect x="407" y="1.8" width="7.6" height="7.8" fill="#2a62d8"/><rect x="415.2" y="1.8" width="7.8" height="7.8" fill="#3aa83a"/>
<rect x="408.5" y="5.5" width="4.8" height="2.6" fill="#e8f0ff"/><rect x="416.7" y="5.5" width="4.8" height="2.6" fill="#e8ffe8"/>
<rect x="432" y="0" width="1" height="12" fill="#a0a0a0"/>
<rect x="437" y="0" width="24.5" height="11.5" fill="#f8f8f8"/>
<rect x="436.5" y="0" width="1" height="12" fill="#a0a0a0"/>
<rect x="445" y="0" width="1" height="10" fill="#6e6e6e"/>
<rect x="442.5" y="7" width="13" height="1" fill="#6e6e6e"/>
<polygon points="454.5,5.5 457,7.5 454.5,9.5" fill="#6e6e6e"/>
<polygon points="450,-2 454.2,1 450,4.5" fill="#22a83a"/>
<rect x="465" y="0" width="25" height="11.5" fill="#f8f8f8"/>
<rect x="464.5" y="0" width="1" height="12" fill="#a0a0a0"/>
<rect x="473" y="0" width="1" height="10" fill="#6e6e6e"/>
<rect x="470.5" y="7" width="13" height="1" fill="#6e6e6e"/>
<polygon points="482.5,5.5 485,7.5 482.5,9.5" fill="#6e6e6e"/>
<rect x="479" y="-1" width="1.2" height="6.5" fill="#2a62c8"/><polygon points="480.5,1.2 484,-0.5 484,3" fill="#e04010"/>
<rect x="494" y="0" width="1" height="12" fill="#a0a0a0"/>
<rect x="504" y="-2" width="8" height="9.5" rx="1" fill="#fff" stroke="#9a9a9a" stroke-width="0.9"/>
<path d="M508,4 h12.5 v3.6 h-12.5z M512.4,-1 h3.8 v12.6 h-3.8z" fill="#28d428" stroke="#0a8c0a" stroke-width="0.9" stroke-linejoin="round"/>
<rect x="512.8" y="4.4" width="3" height="2.8" fill="#28d428"/>
<polygon points="526,0.8 531.5,0.8 528.75,4.0" fill="#111"/>
<circle cx="550" cy="1.6" r="6.8" fill="#f4f8ff" stroke="#1a62c8" stroke-width="2.2"/>
<path d="M550,-2 v3.8 h2.6" fill="none" stroke="#555" stroke-width="1"/>
<polygon points="565,0.8 570.5,0.8 567.75,4.0" fill="#111"/>
<rect x="581.5" y="-2" width="15.5" height="10.7" fill="#fff" stroke="#3a72c8" stroke-width="1.1"/>
<rect x="582" y="2.5" width="14.5" height="1" fill="#3a72c8"/>
<path d="M583.5,1 h2.5 M588,0 h2.5 M592,-0.5 h2.5" stroke="#c02010" stroke-width="1.3"/>
<path d="M584,6.8 l2.5,-0.8 l2,1.2 l3,-2.6 l3,2.2" fill="none" stroke="#1a9a2a" stroke-width="1"/>
<polygon points="603.5,0.8 609.0,0.8 606.25,4.0" fill="#111"/>
<rect x="615" y="0" width="1" height="14" fill="#a0a0a0"/>
<rect x="619" y="0" width="3" height="1" fill="#b4b4b4"/>
<rect x="619" y="2" width="3" height="1" fill="#b4b4b4"/>
<rect x="619" y="4" width="3" height="1" fill="#b4b4b4"/>
<rect x="619" y="6" width="3" height="1" fill="#b4b4b4"/>
<rect x="619" y="8" width="3" height="1" fill="#b4b4b4"/>
<rect x="619" y="10" width="3" height="1" fill="#b4b4b4"/>
<rect x="626" y="0" width="24.5" height="11.5" fill="#f8f8f8"/>
<polygon points="632.5,-3 632.5,5.5 635,3.8 637.5,9 639.5,8 637.3,3 641,2.6" fill="#505050"/>
<rect x="665" y="0" width="1" height="10" fill="#6e6e6e"/><rect x="658" y="2" width="15" height="1" fill="#6e6e6e"/>
<rect x="682" y="0" width="1" height="12" fill="#a0a0a0"/>
<rect x="699" y="0" width="1.2" height="9" fill="#6e6e6e"/>
<rect x="722" y="1.8" width="12" height="1.2" fill="#6e6e6e"/>
<line x1="750" y1="9" x2="759.5" y2="-0.5" stroke="#6e6e6e" stroke-width="1.2"/>
<path d="M776,3 l8,-6 M777,8 l11,-8.5 M778.5,5 l3,-6 M781.5,6 l3.5,-7 M784.5,3.5 l2.5,-5" stroke="#6e6e6e" stroke-width="1" fill="none"/>
<text x="786.5" y="10.6" font-size="6.5" font-weight="bold" fill="#444">E</text>
<path d="M805,2.3 h13 M805,6.5 h10" stroke="#6e6e6e" stroke-width="1" stroke-dasharray="1 1" fill="none"/>
<text x="814.8" y="10.6" font-size="6.5" font-weight="bold" fill="#444">F</text>
<text x="835.3" y="7" font-size="12" font-weight="bold" fill="#6a6a6a">A</text>
<rect x="862.5" y="-2" width="11" height="10.5" fill="none" stroke="#6e6e6e" stroke-width="0.9" stroke-dasharray="1 1"/>
<rect x="867" y="-1" width="2" height="7.5" fill="#6e6e6e"/>
<path d="M891,1.5 l3,3.5 l4.5,-6" fill="none" stroke="#555" stroke-width="1.6"/>
<polygon points="896.5,6 899.5,3.2 902.5,6 899.5,8.8" fill="#555"/>
<polygon points="909.5,1 915.0,1 912.25,4.2" fill="#111"/>
<rect x="921" y="0" width="1" height="14" fill="#a0a0a0"/>
<rect x="925" y="0" width="3" height="1" fill="#b4b4b4"/>
<rect x="925" y="2" width="3" height="1" fill="#b4b4b4"/>
<rect x="925" y="4" width="3" height="1" fill="#b4b4b4"/>
<rect x="925" y="6" width="3" height="1" fill="#b4b4b4"/>
<rect x="925" y="8" width="3" height="1" fill="#b4b4b4"/>
<rect x="925" y="10" width="3" height="1" fill="#b4b4b4"/>
<rect x="1072.5" y="0" width="23.5" height="11.5" fill="#f8f8f8"/>
<rect x="1071.5" y="0" width="1" height="12" fill="#a0a0a0"/>
<text x="937" y="6.2" font-size="11" fill="#505050" textLength="12.5" lengthAdjust="spacingAndGlyphs">M1</text>
<text x="965" y="6.2" font-size="11" fill="#505050" textLength="12.5" lengthAdjust="spacingAndGlyphs">M5</text>
<text x="990.5" y="6.2" font-size="11" fill="#505050" textLength="17" lengthAdjust="spacingAndGlyphs">M15</text>
<text x="1018.7" y="6.2" font-size="11" fill="#505050" textLength="17.5" lengthAdjust="spacingAndGlyphs">M30</text>
<text x="1049.5" y="6.2" font-size="11" fill="#505050" textLength="12" lengthAdjust="spacingAndGlyphs">H1</text>
<text x="1076.7" y="6.2" font-size="11" fill="#505050" textLength="12.3" lengthAdjust="spacingAndGlyphs">H4</text>
<text x="1105.8" y="6.2" font-size="11" fill="#505050" textLength="11.8" lengthAdjust="spacingAndGlyphs">D1</text>
<text x="1133" y="6.2" font-size="11" fill="#505050" textLength="14" lengthAdjust="spacingAndGlyphs">W1</text>
<text x="1159.7" y="6.2" font-size="11" fill="#505050" textLength="14.6" lengthAdjust="spacingAndGlyphs">MN</text>
<rect x="1182" y="0" width="1" height="14" fill="#a0a0a0"/>
<line x1="1644.5" y1="7" x2="1650" y2="2.5" stroke="#2a62c8" stroke-width="2.2" stroke-linecap="round"/>
<circle cx="1653.5" cy="-1" r="4.2" fill="#eaf2ff" stroke="#2a62c8" stroke-width="1.6"/>
<path d="M1669.5,-2 h11 v7.5 h-6 l-2.5,3 v-3 h-2.5z" fill="#d8d8d8" stroke="#b0b0b0" stroke-width="0.6"/>
<circle cx="1682.8" cy="1" r="8" fill="#e02818"/>
<text x="1680.3" y="4.2" font-size="9" font-weight="bold" fill="#fff">1</text>
<polygon points="1429,19 1438.5,19 1433.7,24" fill="#c0c0c0"/>
</svg>
</body></html>
